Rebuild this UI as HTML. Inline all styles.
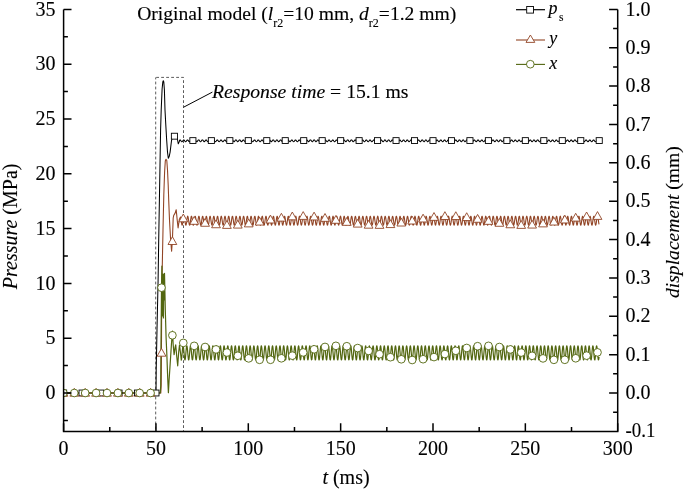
<!DOCTYPE html>
<html><head><meta charset="utf-8"><style>
html,body{margin:0;padding:0;background:#fff;}
svg{display:block;font-family:"Liberation Serif",serif;will-change:transform;}
text{stroke:#000;stroke-width:0.12px;}
</style></head><body>
<svg width="685" height="490" viewBox="0 0 685 490">
<g fill="none" stroke="#4a4a4a" stroke-width="0.9" stroke-dasharray="2.8,2.2"><path d="M155.7,77.4 V431.4" stroke-dashoffset="0.8"/><path d="M155.3,77.4 H183.5" stroke-dashoffset="-0.9"/><path d="M183.5,77.4 V431.4" stroke-dashoffset="2.2"/></g>
<path d="M183.6,107.2 L212.4,92.1" stroke="#000" stroke-width="1" fill="none"/>
<defs><clipPath id="pc"><rect x="63.6" y="0" width="554.1" height="431.4"/></clipPath></defs><g clip-path="url(#pc)">
<path d="M63.60,393.00 L156.00,393.00 L156.20,370.00 L157.00,330.00 L158.10,280.00 L158.70,240.00 L159.40,200.00 L160.00,165.00 L160.60,130.00 L161.20,110.00 L162.10,89.00 L162.80,82.00 L163.30,80.70 L163.80,82.00 L164.40,90.00 L165.00,110.00 L165.80,125.00 L166.60,139.00 L167.50,152.00 L168.30,158.20 L169.20,156.50 L170.10,152.10 L171.50,140.70 L172.50,137.00 L174.00,135.80 L176.00,136.00 L177.30,138.50 L178.30,143.80 L179.40,141.40 L179.65,140.08 L179.90,139.92 L180.15,139.92 L180.40,140.07 L180.65,140.35 L180.90,140.71 L181.15,141.08 L181.40,141.41 L181.65,141.63 L181.90,141.70 L182.15,141.62 L182.40,141.39 L182.65,141.06 L182.90,140.68 L183.15,140.33 L183.40,140.06 L183.65,139.91 L183.90,139.93 L184.15,140.09 L184.40,140.38 L184.65,140.75 L184.90,141.12 L185.15,141.43 L185.40,141.64 L185.65,141.70 L185.90,141.60 L186.15,141.36 L186.40,141.02 L186.65,140.65 L186.90,140.30 L187.15,140.04 L187.40,139.91 L187.65,139.94 L187.90,140.12 L188.15,140.42 L188.40,140.78 L188.65,141.15 L188.90,141.46 L189.15,141.65 L189.40,141.70 L189.65,141.58 L189.90,141.33 L190.15,140.99 L190.40,140.61 L190.65,140.27 L190.90,140.02 L191.15,139.90 L191.40,139.95 L191.65,140.14 L191.90,140.45 L192.15,140.82 L192.40,141.19 L192.65,141.49 L192.90,141.66 L193.15,141.69 L193.40,141.56 L193.65,141.30 L193.90,140.95 L194.15,140.57 L194.40,140.24 L194.65,140.00 L194.90,139.90 L195.15,139.96 L195.40,140.17 L195.65,140.49 L195.90,140.86 L196.15,141.22 L196.40,141.51 L196.65,141.67 L196.90,141.69 L197.15,141.54 L197.40,141.27 L197.65,140.91 L197.90,140.54 L198.15,140.21 L198.40,139.98 L198.65,139.90 L198.90,139.98 L199.15,140.19 L199.40,140.52 L199.65,140.90 L199.90,141.25 L200.15,141.53 L200.40,141.68 L200.65,141.68 L200.90,141.52 L201.15,141.24 L201.40,140.88 L201.65,140.50 L201.90,140.18 L202.15,139.97 L202.40,139.90 L202.65,139.99 L202.90,140.22 L203.15,140.56 L203.40,140.93 L203.65,141.28 L203.90,141.55 L204.15,141.69 L204.40,141.67 L204.65,141.50 L204.90,141.20 L205.15,140.84 L205.40,140.47 L205.65,140.15 L205.90,139.95 L206.15,139.90 L206.40,140.01 L206.65,140.25 L206.90,140.59 L207.15,140.97 L207.40,141.32 L207.65,141.57 L207.90,141.69 L208.15,141.66 L208.40,141.47 L208.65,141.17 L208.90,140.80 L209.15,140.43 L209.40,140.13 L209.65,139.94 L209.90,139.91 L210.15,140.03 L210.40,140.28 L210.65,140.63 L210.90,141.01 L211.15,141.35 L211.40,141.59 L211.65,141.70 L211.90,141.65 L212.15,141.45 L212.40,141.13 L212.65,140.76 L212.90,140.40 L213.15,140.10 L213.40,139.93 L213.65,139.91 L213.90,140.05 L214.15,140.31 L214.40,140.67 L214.65,141.04 L214.90,141.38 L215.15,141.61 L215.40,141.70 L215.65,141.63 L215.90,141.42 L216.15,141.10 L216.40,140.73 L216.65,140.37 L216.90,140.08 L217.15,139.92 L217.40,139.92 L217.65,140.07 L217.90,140.35 L218.15,140.70 L218.40,141.08 L218.65,141.40 L218.90,141.62 L219.15,141.70 L219.40,141.62 L219.65,141.39 L219.90,141.06 L220.15,140.69 L220.40,140.33 L220.65,140.06 L220.90,139.91 L221.15,139.93 L221.40,140.09 L221.65,140.38 L221.90,140.74 L222.15,141.11 L222.40,141.43 L222.65,141.64 L222.90,141.70 L223.15,141.60 L223.40,141.36 L223.65,141.03 L223.90,140.65 L224.15,140.30 L224.40,140.04 L224.65,139.91 L224.90,139.94 L225.15,140.11 L225.40,140.41 L225.65,140.78 L225.90,141.15 L226.15,141.46 L226.40,141.65 L226.65,141.70 L226.90,141.58 L227.15,141.33 L227.40,140.99 L227.65,140.62 L227.90,140.27 L228.15,140.02 L228.40,139.90 L228.65,139.95 L228.90,140.14 L229.15,140.45 L229.40,140.82 L229.65,141.18 L229.90,141.48 L230.15,141.66 L230.40,141.69 L230.65,141.57 L230.90,141.30 L231.15,140.96 L231.40,140.58 L231.65,140.24 L231.90,140.00 L232.15,139.90 L232.40,139.96 L232.65,140.16 L232.90,140.48 L233.15,140.85 L233.40,141.22 L233.65,141.51 L233.90,141.67 L234.15,141.69 L234.40,141.54 L234.65,141.27 L234.90,140.92 L235.15,140.54 L235.40,140.21 L235.65,139.98 L235.90,139.90 L236.15,139.97 L236.40,140.19 L236.65,140.52 L236.90,140.89 L237.15,141.25 L237.40,141.53 L237.65,141.68 L237.90,141.68 L238.15,141.52 L238.40,141.24 L238.65,140.88 L238.90,140.51 L239.15,140.18 L239.40,139.97 L239.65,139.90 L239.90,139.99 L240.15,140.22 L240.40,140.55 L240.65,140.93 L240.90,141.28 L241.15,141.55 L241.40,141.69 L241.65,141.67 L241.90,141.50 L242.15,141.21 L242.40,140.84 L242.65,140.47 L242.90,140.16 L243.15,139.96 L243.40,139.90 L243.65,140.01 L243.90,140.25 L244.15,140.59 L244.40,140.96 L244.65,141.31 L244.90,141.57 L245.15,141.69 L245.40,141.66 L245.65,141.48 L245.90,141.17 L246.15,140.81 L246.40,140.44 L246.65,140.13 L246.90,139.94 L247.15,139.91 L247.40,140.02 L247.65,140.28 L247.90,140.62 L248.15,141.00 L248.40,141.34 L248.65,141.59 L248.90,141.70 L249.15,141.65 L249.40,141.45 L249.65,141.14 L249.90,140.77 L250.15,140.40 L250.40,140.11 L250.65,139.93 L250.90,139.91 L251.15,140.04 L251.40,140.31 L251.65,140.66 L251.90,141.04 L252.15,141.37 L252.40,141.61 L252.65,141.70 L252.90,141.64 L253.15,141.42 L253.40,141.10 L253.65,140.73 L253.90,140.37 L254.15,140.08 L254.40,139.92 L254.65,139.92 L254.90,140.06 L255.15,140.34 L255.40,140.70 L255.65,141.07 L255.90,141.40 L256.15,141.62 L256.40,141.70 L256.65,141.62 L256.90,141.40 L257.15,141.07 L257.40,140.69 L257.65,140.34 L257.90,140.06 L258.15,139.92 L258.40,139.92 L258.65,140.09 L258.90,140.37 L259.15,140.73 L259.40,141.11 L259.65,141.43 L259.90,141.64 L260.15,141.70 L260.40,141.60 L260.65,141.37 L260.90,141.03 L261.15,140.66 L261.40,140.31 L261.65,140.04 L261.90,139.91 L262.15,139.93 L262.40,140.11 L262.65,140.41 L262.90,140.77 L263.15,141.14 L263.40,141.45 L263.65,141.65 L263.90,141.70 L264.15,141.59 L264.40,141.34 L264.65,141.00 L264.90,140.62 L265.15,140.28 L265.40,140.02 L265.65,139.90 L265.90,139.94 L266.15,140.13 L266.40,140.44 L266.65,140.81 L266.90,141.18 L267.15,141.48 L267.40,141.66 L267.65,141.69 L267.90,141.57 L268.15,141.31 L268.40,140.96 L268.65,140.58 L268.90,140.25 L269.15,140.00 L269.40,139.90 L269.65,139.96 L269.90,140.16 L270.15,140.48 L270.40,140.85 L270.65,141.21 L270.90,141.50 L271.15,141.67 L271.40,141.69 L271.65,141.55 L271.90,141.28 L272.15,140.92 L272.40,140.55 L272.65,140.22 L272.90,139.99 L273.15,139.90 L273.40,139.97 L273.65,140.19 L273.90,140.51 L274.15,140.88 L274.40,141.24 L274.65,141.53 L274.90,141.68 L275.15,141.68 L275.40,141.53 L275.65,141.25 L275.90,140.89 L276.15,140.51 L276.40,140.19 L276.65,139.97 L276.90,139.90 L277.15,139.99 L277.40,140.21 L277.65,140.55 L277.90,140.92 L278.15,141.28 L278.40,141.55 L278.65,141.69 L278.90,141.67 L279.15,141.50 L279.40,141.21 L279.65,140.85 L279.90,140.48 L280.15,140.16 L280.40,139.96 L280.65,139.90 L280.90,140.00 L281.15,140.24 L281.40,140.58 L281.65,140.96 L281.90,141.31 L282.15,141.57 L282.40,141.69 L282.65,141.66 L282.90,141.48 L283.15,141.18 L283.40,140.81 L283.65,140.44 L283.90,140.14 L284.15,139.95 L284.40,139.90 L284.65,140.02 L284.90,140.27 L285.15,140.62 L285.40,141.00 L285.65,141.34 L285.90,141.59 L286.15,141.70 L286.40,141.65 L286.65,141.45 L286.90,141.14 L287.15,140.77 L287.40,140.41 L287.65,140.11 L287.90,139.93 L288.15,139.91 L288.40,140.04 L288.65,140.30 L288.90,140.66 L289.15,141.03 L289.40,141.37 L289.65,141.60 L289.90,141.70 L290.15,141.64 L290.40,141.43 L290.65,141.11 L290.90,140.74 L291.15,140.37 L291.40,140.09 L291.65,139.92 L291.90,139.92 L292.15,140.06 L292.40,140.34 L292.65,140.69 L292.90,141.07 L293.15,141.40 L293.40,141.62 L293.65,141.70 L293.90,141.62 L294.15,141.40 L294.40,141.07 L294.65,140.70 L294.90,140.34 L295.15,140.07 L295.40,139.92 L295.65,139.92 L295.90,140.08 L296.15,140.37 L296.40,140.73 L296.65,141.10 L296.90,141.42 L297.15,141.63 L297.40,141.70 L297.65,141.61 L297.90,141.37 L298.15,141.04 L298.40,140.66 L298.65,140.31 L298.90,140.04 L299.15,139.91 L299.40,139.93 L299.65,140.11 L299.90,140.40 L300.15,140.77 L300.40,141.14 L300.65,141.45 L300.90,141.65 L301.15,141.70 L301.40,141.59 L301.65,141.34 L301.90,141.00 L302.15,140.63 L302.40,140.28 L302.65,140.02 L302.90,139.91 L303.15,139.94 L303.40,140.13 L303.65,140.44 L303.90,140.80 L304.15,141.17 L304.40,141.48 L304.65,141.66 L304.90,141.69 L305.15,141.57 L305.40,141.31 L305.65,140.97 L305.90,140.59 L306.15,140.25 L306.40,140.01 L306.65,139.90 L306.90,139.96 L307.15,140.16 L307.40,140.47 L307.65,140.84 L307.90,141.21 L308.15,141.50 L308.40,141.67 L308.65,141.69 L308.90,141.55 L309.15,141.28 L309.40,140.93 L309.65,140.55 L309.90,140.22 L310.15,139.99 L310.40,139.90 L310.65,139.97 L310.90,140.18 L311.15,140.51 L311.40,140.88 L311.65,141.24 L311.90,141.52 L312.15,141.68 L312.40,141.68 L312.65,141.53 L312.90,141.25 L313.15,140.89 L313.40,140.52 L313.65,140.19 L313.90,139.97 L314.15,139.90 L314.40,139.98 L314.65,140.21 L314.90,140.54 L315.15,140.92 L315.40,141.27 L315.65,141.54 L315.90,141.69 L316.15,141.67 L316.40,141.51 L316.65,141.22 L316.90,140.85 L317.15,140.48 L317.40,140.17 L317.65,139.96 L317.90,139.90 L318.15,140.00 L318.40,140.24 L318.65,140.58 L318.90,140.95 L319.15,141.30 L319.40,141.56 L319.65,141.69 L319.90,141.66 L320.15,141.48 L320.40,141.18 L320.65,140.82 L320.90,140.45 L321.15,140.14 L321.40,139.95 L321.65,139.90 L321.90,140.02 L322.15,140.27 L322.40,140.61 L322.65,140.99 L322.90,141.33 L323.15,141.58 L323.40,141.70 L323.65,141.65 L323.90,141.46 L324.15,141.15 L324.40,140.78 L324.65,140.41 L324.90,140.11 L325.15,139.94 L325.40,139.91 L325.65,140.04 L325.90,140.30 L326.15,140.65 L326.40,141.03 L326.65,141.36 L326.90,141.60 L327.15,141.70 L327.40,141.64 L327.65,141.43 L327.90,141.11 L328.15,140.74 L328.40,140.38 L328.65,140.09 L328.90,139.93 L329.15,139.91 L329.40,140.06 L329.65,140.33 L329.90,140.69 L330.15,141.06 L330.40,141.39 L330.65,141.62 L330.90,141.70 L331.15,141.62 L331.40,141.41 L331.65,141.08 L331.90,140.70 L332.15,140.35 L332.40,140.07 L332.65,139.92 L332.90,139.92 L333.15,140.08 L333.40,140.36 L333.65,140.72 L333.90,141.10 L334.15,141.42 L334.40,141.63 L334.65,141.70 L334.90,141.61 L335.15,141.38 L335.40,141.04 L335.65,140.67 L335.90,140.31 L336.15,140.05 L336.40,139.91 L336.65,139.93 L336.90,140.10 L337.15,140.40 L337.40,140.76 L337.65,141.13 L337.90,141.45 L338.15,141.65 L338.40,141.70 L338.65,141.59 L338.90,141.35 L339.15,141.01 L339.40,140.63 L339.65,140.28 L339.90,140.03 L340.15,139.91 L340.40,139.94 L340.65,140.13 L340.90,140.43 L341.15,140.80 L341.40,141.17 L341.65,141.47 L341.90,141.66 L342.15,141.69 L342.40,141.57 L342.65,141.32 L342.90,140.97 L343.15,140.59 L343.40,140.25 L343.65,140.01 L343.90,139.90 L344.15,139.95 L344.40,140.15 L344.65,140.47 L344.90,140.84 L345.15,141.20 L345.40,141.50 L345.65,141.67 L345.90,141.69 L346.15,141.55 L346.40,141.29 L346.65,140.93 L346.90,140.56 L347.15,140.22 L347.40,139.99 L347.65,139.90 L347.90,139.97 L348.15,140.18 L348.40,140.50 L348.65,140.87 L348.90,141.23 L349.15,141.52 L349.40,141.68 L349.65,141.68 L349.90,141.53 L350.15,141.25 L350.40,140.90 L350.65,140.52 L350.90,140.20 L351.15,139.98 L351.40,139.90 L351.65,139.98 L351.90,140.21 L352.15,140.54 L352.40,140.91 L352.65,141.27 L352.90,141.54 L353.15,141.69 L353.40,141.67 L353.65,141.51 L353.90,141.22 L354.15,140.86 L354.40,140.49 L354.65,140.17 L354.90,139.96 L355.15,139.90 L355.40,140.00 L355.65,140.24 L355.90,140.57 L356.15,140.95 L356.40,141.30 L356.65,141.56 L356.90,141.69 L357.15,141.66 L357.40,141.49 L357.65,141.19 L357.90,140.82 L358.15,140.45 L358.40,140.14 L358.65,139.95 L358.90,139.90 L359.15,140.02 L359.40,140.27 L359.65,140.61 L359.90,140.98 L360.15,141.33 L360.40,141.58 L360.65,141.70 L360.90,141.65 L361.15,141.46 L361.40,141.15 L361.65,140.78 L361.90,140.42 L362.15,140.12 L362.40,139.94 L362.65,139.91 L362.90,140.03 L363.15,140.30 L363.40,140.64 L363.65,141.02 L363.90,141.36 L364.15,141.60 L364.40,141.70 L364.65,141.64 L364.90,141.44 L365.15,141.12 L365.40,140.75 L365.65,140.38 L365.90,140.09 L366.15,139.93 L366.40,139.91 L366.65,140.06 L366.90,140.33 L367.15,140.68 L367.40,141.06 L367.65,141.39 L367.90,141.62 L368.15,141.70 L368.40,141.63 L368.65,141.41 L368.90,141.08 L369.15,140.71 L369.40,140.35 L369.65,140.07 L369.90,139.92 L370.15,139.92 L370.40,140.08 L370.65,140.36 L370.90,140.72 L371.15,141.09 L371.40,141.42 L371.65,141.63 L371.90,141.70 L372.15,141.61 L372.40,141.38 L372.65,141.05 L372.90,140.67 L373.15,140.32 L373.40,140.05 L373.65,139.91 L373.90,139.93 L374.15,140.10 L374.40,140.39 L374.65,140.76 L374.90,141.13 L375.15,141.44 L375.40,141.64 L375.65,141.70 L375.90,141.59 L376.15,141.35 L376.40,141.01 L376.65,140.64 L376.90,140.29 L377.15,140.03 L377.40,139.91 L377.65,139.94 L377.90,140.12 L378.15,140.43 L378.40,140.79 L378.65,141.16 L378.90,141.47 L379.15,141.66 L379.40,141.69 L379.65,141.58 L379.90,141.32 L380.15,140.98 L380.40,140.60 L380.65,140.26 L380.90,140.01 L381.15,139.90 L381.40,139.95 L381.65,140.15 L381.90,140.46 L382.15,140.83 L382.40,141.20 L382.65,141.49 L382.90,141.67 L383.15,141.69 L383.40,141.56 L383.65,141.29 L383.90,140.94 L384.15,140.56 L384.40,140.23 L384.65,139.99 L384.90,139.90 L385.15,139.96 L385.40,140.18 L385.65,140.50 L385.90,140.87 L386.15,141.23 L386.40,141.52 L386.65,141.68 L386.90,141.68 L387.15,141.54 L387.40,141.26 L387.65,140.90 L387.90,140.53 L388.15,140.20 L388.40,139.98 L388.65,139.90 L388.90,139.98 L389.15,140.20 L389.40,140.53 L389.65,140.91 L389.90,141.26 L390.15,141.54 L390.40,141.68 L390.65,141.68 L390.90,141.51 L391.15,141.23 L391.40,140.86 L391.65,140.49 L391.90,140.17 L392.15,139.96 L392.40,139.90 L392.65,140.00 L392.90,140.23 L393.15,140.57 L393.40,140.94 L393.65,141.29 L393.90,141.56 L394.15,141.69 L394.40,141.67 L394.65,141.49 L394.90,141.19 L395.15,140.83 L395.40,140.46 L395.65,140.15 L395.90,139.95 L396.15,139.90 L396.40,140.01 L396.65,140.26 L396.90,140.60 L397.15,140.98 L397.40,141.32 L397.65,141.58 L397.90,141.70 L398.15,141.66 L398.40,141.47 L398.65,141.16 L398.90,140.79 L399.15,140.42 L399.40,140.12 L399.65,139.94 L399.90,139.91 L400.15,140.03 L400.40,140.29 L400.65,140.64 L400.90,141.02 L401.15,141.35 L401.40,141.60 L401.65,141.70 L401.90,141.64 L402.15,141.44 L402.40,141.12 L402.65,140.75 L402.90,140.39 L403.15,140.10 L403.40,139.93 L403.65,139.91 L403.90,140.05 L404.15,140.32 L404.40,140.68 L404.65,141.05 L404.90,141.38 L405.15,141.61 L405.40,141.70 L405.65,141.63 L405.90,141.41 L406.15,141.09 L406.40,140.72 L406.65,140.36 L406.90,140.07 L407.15,139.92 L407.40,139.92 L407.65,140.07 L407.90,140.35 L408.15,140.71 L408.40,141.09 L408.65,141.41 L408.90,141.63 L409.15,141.70 L409.40,141.61 L409.65,141.38 L409.90,141.05 L410.15,140.68 L410.40,140.32 L410.65,140.05 L410.90,139.91 L411.15,139.93 L411.40,140.10 L411.65,140.39 L411.90,140.75 L412.15,141.12 L412.40,141.44 L412.65,141.64 L412.90,141.70 L413.15,141.60 L413.40,141.36 L413.65,141.02 L413.90,140.64 L414.15,140.29 L414.40,140.03 L414.65,139.91 L414.90,139.94 L415.15,140.12 L415.40,140.42 L415.65,140.79 L415.90,141.16 L416.15,141.46 L416.40,141.65 L416.65,141.70 L416.90,141.58 L417.15,141.33 L417.40,140.98 L417.65,140.60 L417.90,140.26 L418.15,140.01 L418.40,139.90 L418.65,139.95 L418.90,140.15 L419.15,140.46 L419.40,140.83 L419.65,141.19 L419.90,141.49 L420.15,141.67 L420.40,141.69 L420.65,141.56 L420.90,141.30 L421.15,140.94 L421.40,140.57 L421.65,140.23 L421.90,140.00 L422.15,139.90 L422.40,139.96 L422.65,140.17 L422.90,140.49 L423.15,140.86 L423.40,141.23 L423.65,141.51 L423.90,141.68 L424.15,141.68 L424.40,141.54 L424.65,141.26 L424.90,140.91 L425.15,140.53 L425.40,140.20 L425.65,139.98 L425.90,139.90 L426.15,139.98 L426.40,140.20 L426.65,140.53 L426.90,140.90 L427.15,141.26 L427.40,141.53 L427.65,141.68 L427.90,141.68 L428.15,141.52 L428.40,141.23 L428.65,140.87 L428.90,140.50 L429.15,140.18 L429.40,139.97 L429.65,139.90 L429.90,139.99 L430.15,140.23 L430.40,140.56 L430.65,140.94 L430.90,141.29 L431.15,141.56 L431.40,141.69 L431.65,141.67 L431.90,141.49 L432.15,141.20 L432.40,140.83 L432.65,140.46 L432.90,140.15 L433.15,139.95 L433.40,139.90 L433.65,140.01 L433.90,140.26 L434.15,140.60 L434.40,140.97 L434.65,141.32 L434.90,141.58 L435.15,141.69 L435.40,141.66 L435.65,141.47 L435.90,141.16 L436.15,140.80 L436.40,140.43 L436.65,140.12 L436.90,139.94 L437.15,139.91 L437.40,140.03 L437.65,140.29 L437.90,140.63 L438.15,141.01 L438.40,141.35 L438.65,141.59 L438.90,141.70 L439.15,141.64 L439.40,141.44 L439.65,141.13 L439.90,140.76 L440.15,140.39 L440.40,140.10 L440.65,139.93 L440.90,139.91 L441.15,140.05 L441.40,140.32 L441.65,140.67 L441.90,141.05 L442.15,141.38 L442.40,141.61 L442.65,141.70 L442.90,141.63 L443.15,141.42 L443.40,141.09 L443.65,140.72 L443.90,140.36 L444.15,140.08 L444.40,139.92 L444.65,139.92 L444.90,140.07 L445.15,140.35 L445.40,140.71 L445.65,141.08 L445.90,141.41 L446.15,141.63 L446.40,141.70 L446.65,141.62 L446.90,141.39 L447.15,141.06 L447.40,140.68 L447.65,140.33 L447.90,140.06 L448.15,139.91 L448.40,139.93 L448.65,140.09 L448.90,140.38 L449.15,140.75 L449.40,141.12 L449.65,141.43 L449.90,141.64 L450.15,141.70 L450.40,141.60 L450.65,141.36 L450.90,141.02 L451.15,140.65 L451.40,140.30 L451.65,140.04 L451.90,139.91 L452.15,139.94 L452.40,140.12 L452.65,140.42 L452.90,140.78 L453.15,141.15 L453.40,141.46 L453.65,141.65 L453.90,141.70 L454.15,141.58 L454.40,141.33 L454.65,140.99 L454.90,140.61 L455.15,140.27 L455.40,140.02 L455.65,139.90 L455.90,139.95 L456.15,140.14 L456.40,140.45 L456.65,140.82 L456.90,141.19 L457.15,141.49 L457.40,141.66 L457.65,141.69 L457.90,141.56 L458.15,141.30 L458.40,140.95 L458.65,140.57 L458.90,140.24 L459.15,140.00 L459.40,139.90 L459.65,139.96 L459.90,140.17 L460.15,140.49 L460.40,140.86 L460.65,141.22 L460.90,141.51 L461.15,141.67 L461.40,141.69 L461.65,141.54 L461.90,141.27 L462.15,140.91 L462.40,140.54 L462.65,140.21 L462.90,139.98 L463.15,139.90 L463.40,139.98 L463.65,140.20 L463.90,140.52 L464.15,140.90 L464.40,141.25 L464.65,141.53 L464.90,141.68 L465.15,141.68 L465.40,141.52 L465.65,141.24 L465.90,140.88 L466.15,140.50 L466.40,140.18 L466.65,139.97 L466.90,139.90 L467.15,139.99 L467.40,140.22 L467.65,140.56 L467.90,140.93 L468.15,141.29 L468.40,141.55 L468.65,141.69 L468.90,141.67 L469.15,141.50 L469.40,141.20 L469.65,140.84 L469.90,140.47 L470.15,140.15 L470.40,139.95 L470.65,139.90 L470.90,140.01 L471.15,140.25 L471.40,140.59 L471.65,140.97 L471.90,141.32 L472.15,141.57 L472.40,141.69 L472.65,141.66 L472.90,141.47 L473.15,141.17 L473.40,140.80 L473.65,140.43 L473.90,140.13 L474.15,139.94 L474.40,139.91 L474.65,140.03 L474.90,140.28 L475.15,140.63 L475.40,141.01 L475.65,141.35 L475.90,141.59 L476.15,141.70 L476.40,141.65 L476.65,141.45 L476.90,141.13 L477.15,140.76 L477.40,140.40 L477.65,140.10 L477.90,139.93 L478.15,139.91 L478.40,140.05 L478.65,140.31 L478.90,140.67 L479.15,141.04 L479.40,141.38 L479.65,141.61 L479.90,141.70 L480.15,141.63 L480.40,141.42 L480.65,141.10 L480.90,140.73 L481.15,140.37 L481.40,140.08 L481.65,139.92 L481.90,139.92 L482.15,140.07 L482.40,140.35 L482.65,140.70 L482.90,141.08 L483.15,141.40 L483.40,141.62 L483.65,141.70 L483.90,141.62 L484.15,141.39 L484.40,141.06 L484.65,140.69 L484.90,140.33 L485.15,140.06 L485.40,139.91 L485.65,139.93 L485.90,140.09 L486.15,140.38 L486.40,140.74 L486.65,141.11 L486.90,141.43 L487.15,141.64 L487.40,141.70 L487.65,141.60 L487.90,141.36 L488.15,141.03 L488.40,140.65 L488.65,140.30 L488.90,140.04 L489.15,139.91 L489.40,139.94 L489.65,140.11 L489.90,140.41 L490.15,140.78 L490.40,141.15 L490.65,141.46 L490.90,141.65 L491.15,141.70 L491.40,141.58 L491.65,141.33 L491.90,140.99 L492.15,140.61 L492.40,140.27 L492.65,140.02 L492.90,139.90 L493.15,139.95 L493.40,140.14 L493.65,140.45 L493.90,140.82 L494.15,141.18 L494.40,141.48 L494.65,141.66 L494.90,141.69 L495.15,141.57 L495.40,141.30 L495.65,140.95 L495.90,140.58 L496.15,140.24 L496.40,140.00 L496.65,139.90 L496.90,139.96 L497.15,140.16 L497.40,140.48 L497.65,140.85 L497.90,141.22 L498.15,141.51 L498.40,141.67 L498.65,141.69 L498.90,141.54 L499.15,141.27 L499.40,140.92 L499.65,140.54 L499.90,140.21 L500.15,139.98 L500.40,139.90 L500.65,139.97 L500.90,140.19 L501.15,140.52 L501.40,140.89 L501.65,141.25 L501.90,141.53 L502.15,141.68 L502.40,141.68 L502.65,141.52 L502.90,141.24 L503.15,140.88 L503.40,140.51 L503.65,140.18 L503.90,139.97 L504.15,139.90 L504.40,139.99 L504.65,140.22 L504.90,140.55 L505.15,140.93 L505.40,141.28 L505.65,141.55 L505.90,141.69 L506.15,141.67 L506.40,141.50 L506.65,141.21 L506.90,140.84 L507.15,140.47 L507.40,140.16 L507.65,139.96 L507.90,139.90 L508.15,140.01 L508.40,140.25 L508.65,140.59 L508.90,140.96 L509.15,141.31 L509.40,141.57 L509.65,141.69 L509.90,141.66 L510.15,141.48 L510.40,141.17 L510.65,140.81 L510.90,140.44 L511.15,140.13 L511.40,139.94 L511.65,139.91 L511.90,140.02 L512.15,140.28 L512.40,140.62 L512.65,141.00 L512.90,141.34 L513.15,141.59 L513.40,141.70 L513.65,141.65 L513.90,141.45 L514.15,141.14 L514.40,140.77 L514.65,140.40 L514.90,140.11 L515.15,139.93 L515.40,139.91 L515.65,140.04 L515.90,140.31 L516.15,140.66 L516.40,141.04 L516.65,141.37 L516.90,141.61 L517.15,141.70 L517.40,141.64 L517.65,141.42 L517.90,141.10 L518.15,140.73 L518.40,140.37 L518.65,140.08 L518.90,139.92 L519.15,139.92 L519.40,140.06 L519.65,140.34 L519.90,140.70 L520.15,141.07 L520.40,141.40 L520.65,141.62 L520.90,141.70 L521.15,141.62 L521.40,141.40 L521.65,141.07 L521.90,140.69 L522.15,140.34 L522.40,140.06 L522.65,139.92 L522.90,139.92 L523.15,140.09 L523.40,140.37 L523.65,140.74 L523.90,141.11 L524.15,141.43 L524.40,141.64 L524.65,141.70 L524.90,141.60 L525.15,141.37 L525.40,141.03 L525.65,140.66 L525.90,140.31 L526.15,140.04 L526.40,139.91 L526.65,139.93 L526.90,140.11 L527.15,140.41 L527.40,140.77 L527.65,141.14 L527.90,141.45 L528.15,141.65 L528.40,141.70 L528.65,141.59 L528.90,141.34 L529.15,141.00 L529.40,140.62 L529.65,140.27 L529.90,140.02 L530.15,139.90 L530.40,139.94 L530.65,140.13 L530.90,140.44 L531.15,140.81 L531.40,141.18 L531.65,141.48 L531.90,141.66 L532.15,141.69 L532.40,141.57 L532.65,141.31 L532.90,140.96 L533.15,140.58 L533.40,140.25 L533.65,140.00 L533.90,139.90 L534.15,139.96 L534.40,140.16 L534.65,140.48 L534.90,140.85 L535.15,141.21 L535.40,141.50 L535.65,141.67 L535.90,141.69 L536.15,141.55 L536.40,141.28 L536.65,140.92 L536.90,140.55 L537.15,140.22 L537.40,139.99 L537.65,139.90 L537.90,139.97 L538.15,140.19 L538.40,140.51 L538.65,140.88 L538.90,141.24 L539.15,141.53 L539.40,141.68 L539.65,141.68 L539.90,141.53 L540.15,141.25 L540.40,140.89 L540.65,140.51 L540.90,140.19 L541.15,139.97 L541.40,139.90 L541.65,139.99 L541.90,140.22 L542.15,140.55 L542.40,140.92 L542.65,141.28 L542.90,141.55 L543.15,141.69 L543.40,141.67 L543.65,141.50 L543.90,141.21 L544.15,140.85 L544.40,140.48 L544.65,140.16 L544.90,139.96 L545.15,139.90 L545.40,140.00 L545.65,140.24 L545.90,140.58 L546.15,140.96 L546.40,141.31 L546.65,141.57 L546.90,141.69 L547.15,141.66 L547.40,141.48 L547.65,141.18 L547.90,140.81 L548.15,140.44 L548.40,140.14 L548.65,139.95 L548.90,139.90 L549.15,140.02 L549.40,140.27 L549.65,140.62 L549.90,141.00 L550.15,141.34 L550.40,141.59 L550.65,141.70 L550.90,141.65 L551.15,141.45 L551.40,141.14 L551.65,140.77 L551.90,140.41 L552.15,140.11 L552.40,139.93 L552.65,139.91 L552.90,140.04 L553.15,140.30 L553.40,140.66 L553.65,141.03 L553.90,141.37 L554.15,141.60 L554.40,141.70 L554.65,141.64 L554.90,141.43 L555.15,141.11 L555.40,140.74 L555.65,140.37 L555.90,140.09 L556.15,139.92 L556.40,139.92 L556.65,140.06 L556.90,140.34 L557.15,140.69 L557.40,141.07 L557.65,141.40 L557.90,141.62 L558.15,141.70 L558.40,141.62 L558.65,141.40 L558.90,141.07 L559.15,140.70 L559.40,140.34 L559.65,140.07 L559.90,139.92 L560.15,139.92 L560.40,140.08 L560.65,140.37 L560.90,140.73 L561.15,141.10 L561.40,141.42 L561.65,141.63 L561.90,141.70 L562.15,141.61 L562.40,141.37 L562.65,141.04 L562.90,140.66 L563.15,140.31 L563.40,140.04 L563.65,139.91 L563.90,139.93 L564.15,140.11 L564.40,140.40 L564.65,140.77 L564.90,141.14 L565.15,141.45 L565.40,141.65 L565.65,141.70 L565.90,141.59 L566.15,141.34 L566.40,141.00 L566.65,140.63 L566.90,140.28 L567.15,140.02 L567.40,139.91 L567.65,139.94 L567.90,140.13 L568.15,140.44 L568.40,140.80 L568.65,141.17 L568.90,141.48 L569.15,141.66 L569.40,141.69 L569.65,141.57 L569.90,141.31 L570.15,140.97 L570.40,140.59 L570.65,140.25 L570.90,140.01 L571.15,139.90 L571.40,139.96 L571.65,140.16 L571.90,140.47 L572.15,140.84 L572.40,141.21 L572.65,141.50 L572.90,141.67 L573.15,141.69 L573.40,141.55 L573.65,141.28 L573.90,140.93 L574.15,140.55 L574.40,140.22 L574.65,139.99 L574.90,139.90 L575.15,139.97 L575.40,140.18 L575.65,140.51 L575.90,140.88 L576.15,141.24 L576.40,141.52 L576.65,141.68 L576.90,141.68 L577.15,141.53 L577.40,141.25 L577.65,140.89 L577.90,140.52 L578.15,140.19 L578.40,139.97 L578.65,139.90 L578.90,139.98 L579.15,140.21 L579.40,140.54 L579.65,140.92 L579.90,141.27 L580.15,141.54 L580.40,141.69 L580.65,141.67 L580.90,141.51 L581.15,141.22 L581.40,140.85 L581.65,140.48 L581.90,140.16 L582.15,139.96 L582.40,139.90 L582.65,140.00 L582.90,140.24 L583.15,140.58 L583.40,140.95 L583.65,141.30 L583.90,141.56 L584.15,141.69 L584.40,141.66 L584.65,141.48 L584.90,141.18 L585.15,140.82 L585.40,140.45 L585.65,140.14 L585.90,139.95 L586.15,139.90 L586.40,140.02 L586.65,140.27 L586.90,140.61 L587.15,140.99 L587.40,141.33 L587.65,141.58 L587.90,141.70 L588.15,141.65 L588.40,141.46 L588.65,141.15 L588.90,140.78 L589.15,140.41 L589.40,140.11 L589.65,139.94 L589.90,139.91 L590.15,140.04 L590.40,140.30 L590.65,140.65 L590.90,141.03 L591.15,141.36 L591.40,141.60 L591.65,141.70 L591.90,141.64 L592.15,141.43 L592.40,141.11 L592.65,140.74 L592.90,140.38 L593.15,140.09 L593.40,139.93 L593.65,139.91 L593.90,140.06 L594.15,140.33 L594.40,140.69 L594.65,141.06 L594.90,141.39 L595.15,141.62 L595.40,141.70 L595.65,141.62 L595.90,141.40 L596.15,141.08 L596.40,140.70 L596.65,140.35 L596.90,140.07 L597.15,139.92 L597.40,139.92 L597.65,140.08 L597.90,140.36 L598.15,140.72 L598.40,141.10 L598.65,141.42 L598.90,141.63 L599.15,141.70" fill="none" stroke="#000" stroke-width="1.05" stroke-linejoin="round"/>
<path d="M63.60,393.00 L160.80,393.00 L161.20,385.00 L161.40,360.00 L161.60,320.00 L162.00,280.00 L162.40,260.00 L163.00,230.00 L163.80,195.00 L164.60,172.00 L165.30,161.00 L166.00,159.30 L166.80,160.50 L167.50,170.00 L168.20,185.00 L168.70,200.00 L169.50,220.00 L170.50,238.00 L171.60,251.30 L172.40,240.00 L173.20,218.00 L173.80,215.20 L175.00,213.40 L176.20,209.70 L177.20,220.00 L178.10,228.00 L179.30,219.50 L180.50,217.00 L180.75,217.53 L181.00,219.11 L181.25,220.97 L181.50,222.79 L181.75,224.24 L182.00,225.07 L182.25,225.13 L182.50,224.42 L182.75,223.06 L183.00,221.28 L183.25,219.40 L183.50,217.75 L183.75,216.62 L184.00,216.20 L184.25,216.57 L184.50,217.66 L184.75,219.29 L185.00,221.16 L185.25,222.95 L185.50,224.35 L185.75,225.11 L186.00,225.09 L186.25,224.31 L186.50,222.90 L186.75,221.10 L187.00,219.23 L187.25,217.62 L187.50,216.54 L187.75,216.20 L188.00,216.65 L188.25,217.80 L188.50,219.46 L188.75,221.34 L189.00,223.11 L189.25,224.45 L189.50,225.14 L189.75,225.05 L190.00,224.20 L190.25,222.73 L190.50,220.91 L190.75,219.05 L191.00,217.48 L191.25,216.48 L191.50,216.21 L191.75,216.73 L192.00,217.95 L192.25,219.65 L192.50,221.53 L192.75,223.27 L193.00,224.55 L193.25,225.17 L193.50,225.00 L193.75,224.08 L194.00,222.56 L194.25,220.72 L194.50,218.88 L194.75,217.35 L195.00,216.42 L195.25,216.23 L195.50,216.82 L195.75,218.10 L196.00,219.83 L196.25,221.71 L196.50,223.42 L196.75,224.65 L197.00,225.19 L197.25,224.94 L197.50,223.95 L197.75,222.39 L198.00,220.54 L198.25,218.71 L198.50,217.23 L198.75,216.36 L199.00,216.25 L199.25,216.92 L199.50,218.25 L199.75,220.01 L200.00,221.89 L200.25,223.56 L200.50,224.73 L200.75,225.20 L201.00,224.87 L201.25,223.82 L201.50,222.22 L201.75,220.35 L202.00,218.54 L202.25,217.12 L202.50,216.32 L202.75,216.28 L203.00,217.03 L203.25,218.41 L203.50,220.20 L203.75,222.07 L204.00,223.71 L204.25,224.81 L204.50,225.20 L204.75,224.80 L205.00,223.68 L205.25,222.04 L205.50,220.16 L205.75,218.38 L206.00,217.01 L206.25,216.28 L206.50,216.32 L206.75,217.14 L207.00,218.57 L207.25,220.38 L207.50,222.25 L207.75,223.84 L208.00,224.89 L208.25,225.20 L208.50,224.72 L208.75,223.54 L209.00,221.86 L209.25,219.98 L209.50,218.22 L209.75,216.90 L210.00,216.25 L210.25,216.37 L210.50,217.25 L210.75,218.74 L211.00,220.57 L211.25,222.42 L211.50,223.97 L211.75,224.95 L212.00,225.18 L212.25,224.63 L212.50,223.39 L212.75,221.68 L213.00,219.79 L213.25,218.07 L213.50,216.80 L213.75,216.22 L214.00,216.43 L214.25,217.38 L214.50,218.91 L214.75,220.76 L215.00,222.59 L215.25,224.10 L215.50,225.01 L215.75,225.16 L216.00,224.54 L216.25,223.24 L216.50,221.49 L216.75,219.61 L217.00,217.92 L217.25,216.71 L217.50,216.21 L217.75,216.49 L218.00,217.51 L218.25,219.08 L218.50,220.95 L218.75,222.76 L219.00,224.22 L219.25,225.06 L219.50,225.13 L219.75,224.43 L220.00,223.08 L220.25,221.31 L220.50,219.43 L220.75,217.77 L221.00,216.63 L221.25,216.20 L221.50,216.56 L221.75,217.64 L222.00,219.26 L222.25,221.13 L222.50,222.93 L222.75,224.33 L223.00,225.10 L223.25,225.10 L223.50,224.33 L223.75,222.92 L224.00,221.12 L224.25,219.25 L224.50,217.63 L224.75,216.55 L225.00,216.20 L225.25,216.64 L225.50,217.78 L225.75,219.44 L226.00,221.32 L226.25,223.09 L226.50,224.44 L226.75,225.14 L227.00,225.06 L227.25,224.21 L227.50,222.75 L227.75,220.94 L228.00,219.08 L228.25,217.50 L228.50,216.49 L228.75,216.21 L229.00,216.72 L229.25,217.93 L229.50,219.62 L229.75,221.50 L230.00,223.24 L230.25,224.54 L230.50,225.16 L230.75,225.01 L231.00,224.09 L231.25,222.59 L231.50,220.75 L231.75,218.90 L232.00,217.37 L232.25,216.42 L232.50,216.22 L232.75,216.81 L233.00,218.08 L233.25,219.80 L233.50,221.69 L233.75,223.40 L234.00,224.63 L234.25,225.18 L234.50,224.95 L234.75,223.97 L235.00,222.41 L235.25,220.56 L235.50,218.73 L235.75,217.25 L236.00,216.37 L236.25,216.25 L236.50,216.91 L236.75,218.23 L237.00,219.99 L237.25,221.87 L237.50,223.54 L237.75,224.72 L238.00,225.20 L238.25,224.88 L238.50,223.84 L238.75,222.24 L239.00,220.37 L239.25,218.57 L239.50,217.13 L239.75,216.32 L240.00,216.28 L240.25,217.01 L240.50,218.39 L240.75,220.17 L241.00,222.05 L241.25,223.69 L241.50,224.80 L241.75,225.20 L242.00,224.81 L242.25,223.70 L242.50,222.06 L242.75,220.19 L243.00,218.40 L243.25,217.02 L243.50,216.28 L243.75,216.32 L244.00,217.12 L244.25,218.55 L244.50,220.36 L244.75,222.22 L245.00,223.82 L245.25,224.88 L245.50,225.20 L245.75,224.73 L246.00,223.56 L246.25,221.88 L246.50,220.00 L246.75,218.24 L247.00,216.92 L247.25,216.25 L247.50,216.36 L247.75,217.24 L248.00,218.72 L248.25,220.54 L248.50,222.40 L248.75,223.96 L249.00,224.94 L249.25,225.19 L249.50,224.64 L249.75,223.41 L250.00,221.70 L250.25,219.82 L250.50,218.09 L250.75,216.82 L251.00,216.23 L251.25,216.42 L251.50,217.36 L251.75,218.89 L252.00,220.73 L252.25,222.57 L252.50,224.08 L252.75,225.00 L253.00,225.17 L253.25,224.55 L253.50,223.26 L253.75,221.52 L254.00,219.64 L254.25,217.94 L254.50,216.73 L254.75,216.21 L255.00,216.48 L255.25,217.49 L255.50,219.06 L255.75,220.92 L256.00,222.74 L256.25,224.20 L256.50,225.05 L256.75,225.14 L257.00,224.45 L257.25,223.10 L257.50,221.33 L257.75,219.46 L258.00,217.79 L258.25,216.64 L258.50,216.20 L258.75,216.55 L259.00,217.62 L259.25,219.24 L259.50,221.11 L259.75,222.90 L260.00,224.32 L260.25,225.10 L260.50,225.10 L260.75,224.34 L261.00,222.94 L261.25,221.15 L261.50,219.28 L261.75,217.65 L262.00,216.57 L262.25,216.20 L262.50,216.62 L262.75,217.76 L263.00,219.41 L263.25,221.29 L263.50,223.07 L263.75,224.42 L264.00,225.13 L264.25,225.06 L264.50,224.23 L264.75,222.78 L265.00,220.96 L265.25,219.10 L265.50,217.52 L265.75,216.50 L266.00,216.21 L266.25,216.71 L266.50,217.91 L266.75,219.59 L267.00,221.48 L267.25,223.22 L267.50,224.53 L267.75,225.16 L268.00,225.01 L268.25,224.11 L268.50,222.61 L268.75,220.78 L269.00,218.93 L269.25,217.39 L269.50,216.43 L269.75,216.22 L270.00,216.80 L270.25,218.05 L270.50,219.78 L270.75,221.66 L271.00,223.37 L271.25,224.62 L271.50,225.18 L271.75,224.96 L272.00,223.99 L272.25,222.44 L272.50,220.59 L272.75,218.76 L273.00,217.27 L273.25,216.38 L273.50,216.24 L273.75,216.89 L274.00,218.21 L274.25,219.96 L274.50,221.84 L274.75,223.52 L275.00,224.71 L275.25,225.19 L275.50,224.89 L275.75,223.85 L276.00,222.26 L276.25,220.40 L276.50,218.59 L276.75,217.15 L277.00,216.33 L277.25,216.27 L277.50,217.00 L277.75,218.37 L278.00,220.15 L278.25,222.02 L278.50,223.67 L278.75,224.79 L279.00,225.20 L279.25,224.82 L279.50,223.72 L279.75,222.09 L280.00,220.21 L280.25,218.43 L280.50,217.04 L280.75,216.29 L281.00,216.31 L281.25,217.11 L281.50,218.53 L281.75,220.33 L282.00,222.20 L282.25,223.80 L282.50,224.87 L282.75,225.20 L283.00,224.74 L283.25,223.58 L283.50,221.91 L283.75,220.03 L284.00,218.27 L284.25,216.93 L284.50,216.25 L284.75,216.36 L285.00,217.22 L285.25,218.69 L285.50,220.52 L285.75,222.37 L286.00,223.94 L286.25,224.93 L286.50,225.19 L286.75,224.66 L287.00,223.43 L287.25,221.73 L287.50,219.84 L287.75,218.11 L288.00,216.83 L288.25,216.23 L288.50,216.41 L288.75,217.34 L289.00,218.86 L289.25,220.71 L289.50,222.55 L289.75,224.06 L290.00,224.99 L290.25,225.17 L290.50,224.56 L290.75,223.28 L291.00,221.54 L291.25,219.66 L291.50,217.96 L291.75,216.74 L292.00,216.21 L292.25,216.47 L292.50,217.47 L292.75,219.04 L293.00,220.89 L293.25,222.72 L293.50,224.19 L293.75,225.05 L294.00,225.14 L294.25,224.46 L294.50,223.12 L294.75,221.36 L295.00,219.48 L295.25,217.81 L295.50,216.65 L295.75,216.20 L296.00,216.54 L296.25,217.60 L296.50,219.21 L296.75,221.08 L297.00,222.88 L297.25,224.30 L297.50,225.09 L297.75,225.11 L298.00,224.36 L298.25,222.96 L298.50,221.17 L298.75,219.30 L299.00,217.67 L299.25,216.58 L299.50,216.20 L299.75,216.61 L300.00,217.74 L300.25,219.39 L300.50,221.26 L300.75,223.04 L301.00,224.41 L301.25,225.13 L301.50,225.07 L301.75,224.25 L302.00,222.80 L302.25,220.99 L302.50,219.13 L302.75,217.54 L303.00,216.50 L303.25,216.21 L303.50,216.69 L303.75,217.88 L304.00,219.57 L304.25,221.45 L304.50,223.20 L304.75,224.51 L305.00,225.16 L305.25,225.02 L305.50,224.13 L305.75,222.63 L306.00,220.80 L306.25,218.95 L306.50,217.41 L306.75,216.44 L307.00,216.22 L307.25,216.78 L307.50,218.03 L307.75,219.75 L308.00,221.63 L308.25,223.35 L308.50,224.61 L308.75,225.18 L309.00,224.96 L309.25,224.00 L309.50,222.46 L309.75,220.61 L310.00,218.78 L310.25,217.28 L310.50,216.38 L310.75,216.24 L311.00,216.88 L311.25,218.19 L311.50,219.93 L311.75,221.82 L312.00,223.50 L312.25,224.70 L312.50,225.19 L312.75,224.90 L313.00,223.87 L313.25,222.29 L313.50,220.43 L313.75,218.61 L314.00,217.16 L314.25,216.33 L314.50,216.27 L314.75,216.98 L315.00,218.34 L315.25,220.12 L315.50,222.00 L315.75,223.65 L316.00,224.78 L316.25,225.20 L316.50,224.83 L316.75,223.74 L317.00,222.11 L317.25,220.24 L317.50,218.45 L317.75,217.05 L318.00,216.29 L318.25,216.31 L318.50,217.09 L318.75,218.50 L319.00,220.30 L319.25,222.17 L319.50,223.79 L319.75,224.86 L320.00,225.20 L320.25,224.75 L320.50,223.60 L320.75,221.93 L321.00,220.06 L321.25,218.29 L321.50,216.95 L321.75,216.26 L322.00,216.35 L322.25,217.20 L322.50,218.67 L322.75,220.49 L323.00,222.35 L323.25,223.92 L323.50,224.92 L323.75,225.19 L324.00,224.67 L324.25,223.45 L324.50,221.75 L324.75,219.87 L325.00,218.13 L325.25,216.85 L325.50,216.23 L325.75,216.40 L326.00,217.33 L326.25,218.84 L326.50,220.68 L326.75,222.52 L327.00,224.05 L327.25,224.98 L327.50,225.17 L327.75,224.58 L328.00,223.30 L328.25,221.57 L328.50,219.69 L328.75,217.98 L329.00,216.75 L329.25,216.21 L329.50,216.46 L329.75,217.45 L330.00,219.01 L330.25,220.87 L330.50,222.69 L330.75,224.17 L331.00,225.04 L331.25,225.15 L331.50,224.48 L331.75,223.15 L332.00,221.39 L332.25,219.51 L332.50,217.84 L332.75,216.67 L333.00,216.20 L333.25,216.53 L333.50,217.58 L333.75,219.19 L334.00,221.05 L334.25,222.86 L334.50,224.28 L334.75,225.08 L335.00,225.12 L335.25,224.37 L335.50,222.99 L335.75,221.20 L336.00,219.33 L336.25,217.69 L336.50,216.59 L336.75,216.20 L337.00,216.60 L337.25,217.72 L337.50,219.36 L337.75,221.24 L338.00,223.02 L338.25,224.39 L338.50,225.12 L338.75,225.08 L339.00,224.26 L339.25,222.82 L339.50,221.02 L339.75,219.15 L340.00,217.56 L340.25,216.51 L340.50,216.20 L340.75,216.68 L341.00,217.86 L341.25,219.54 L341.50,221.42 L341.75,223.18 L342.00,224.50 L342.25,225.15 L342.50,225.03 L342.75,224.14 L343.00,222.66 L343.25,220.83 L343.50,218.98 L343.75,217.43 L344.00,216.45 L344.25,216.22 L344.50,216.77 L344.75,218.01 L345.00,219.72 L345.25,221.61 L345.50,223.33 L345.75,224.60 L346.00,225.18 L346.25,224.97 L346.50,224.02 L346.75,222.49 L347.00,220.64 L347.25,218.80 L347.50,217.30 L347.75,216.39 L348.00,216.24 L348.25,216.86 L348.50,218.16 L348.75,219.91 L349.00,221.79 L349.25,223.48 L349.50,224.69 L349.75,225.19 L350.00,224.91 L350.25,223.89 L350.50,222.31 L350.75,220.45 L351.00,218.64 L351.25,217.18 L351.50,216.34 L351.75,216.27 L352.00,216.97 L352.25,218.32 L352.50,220.09 L352.75,221.97 L353.00,223.63 L353.25,224.77 L353.50,225.20 L353.75,224.84 L354.00,223.76 L354.25,222.14 L354.50,220.27 L354.75,218.47 L355.00,217.07 L355.25,216.30 L355.50,216.30 L355.75,217.07 L356.00,218.48 L356.25,220.28 L356.50,222.15 L356.75,223.77 L357.00,224.85 L357.25,225.20 L357.50,224.76 L357.75,223.62 L358.00,221.96 L358.25,220.08 L358.50,218.31 L358.75,216.96 L359.00,216.26 L359.25,216.34 L359.50,217.19 L359.75,218.65 L360.00,220.47 L360.25,222.32 L360.50,223.90 L360.75,224.91 L361.00,225.19 L361.25,224.68 L361.50,223.47 L361.75,221.78 L362.00,219.90 L362.25,218.16 L362.50,216.86 L362.75,216.24 L363.00,216.39 L363.25,217.31 L363.50,218.81 L363.75,220.65 L364.00,222.50 L364.25,224.03 L364.50,224.98 L364.75,225.18 L365.00,224.59 L365.25,223.32 L365.50,221.60 L365.75,219.71 L366.00,218.00 L366.25,216.77 L366.50,216.22 L366.75,216.45 L367.00,217.43 L367.25,218.99 L367.50,220.84 L367.75,222.67 L368.00,224.15 L368.25,225.03 L368.50,225.15 L368.75,224.49 L369.00,223.17 L369.25,221.41 L369.50,219.53 L369.75,217.86 L370.00,216.68 L370.25,216.20 L370.50,216.52 L370.75,217.56 L371.00,219.16 L371.25,221.03 L371.50,222.83 L371.75,224.27 L372.00,225.08 L372.25,225.12 L372.50,224.39 L372.75,223.01 L373.00,221.23 L373.25,219.35 L373.50,217.71 L373.75,216.60 L374.00,216.20 L374.25,216.59 L374.50,217.70 L374.75,219.34 L375.00,221.21 L375.25,223.00 L375.50,224.38 L375.75,225.12 L376.00,225.08 L376.25,224.28 L376.50,222.85 L376.75,221.04 L377.00,219.18 L377.25,217.58 L377.50,216.52 L377.75,216.20 L378.00,216.67 L378.25,217.84 L378.50,219.52 L378.75,221.40 L379.00,223.16 L379.25,224.48 L379.50,225.15 L379.75,225.04 L380.00,224.16 L380.25,222.68 L380.50,220.85 L380.75,219.00 L381.00,217.44 L381.25,216.46 L381.50,216.21 L381.75,216.76 L382.00,217.99 L382.25,219.70 L382.50,221.58 L382.75,223.31 L383.00,224.58 L383.25,225.17 L383.50,224.98 L383.75,224.04 L384.00,222.51 L384.25,220.67 L384.50,218.83 L384.75,217.32 L385.00,216.40 L385.25,216.23 L385.50,216.85 L385.75,218.14 L386.00,219.88 L386.25,221.76 L386.50,223.46 L386.75,224.67 L387.00,225.19 L387.25,224.92 L387.50,223.91 L387.75,222.34 L388.00,220.48 L388.25,218.66 L388.50,217.20 L388.75,216.35 L389.00,216.26 L389.25,216.95 L389.50,218.30 L389.75,220.07 L390.00,221.95 L390.25,223.61 L390.50,224.76 L390.75,225.20 L391.00,224.85 L391.25,223.78 L391.50,222.16 L391.75,220.29 L392.00,218.50 L392.25,217.08 L392.50,216.30 L392.75,216.30 L393.00,217.06 L393.25,218.46 L393.50,220.25 L393.75,222.12 L394.00,223.75 L394.25,224.84 L394.50,225.20 L394.75,224.78 L395.00,223.64 L395.25,221.99 L395.50,220.11 L395.75,218.33 L396.00,216.97 L396.25,216.27 L396.50,216.34 L396.75,217.17 L397.00,218.62 L397.25,220.44 L397.50,222.30 L397.75,223.88 L398.00,224.91 L398.25,225.19 L398.50,224.69 L398.75,223.49 L399.00,221.81 L399.25,219.92 L399.50,218.18 L399.75,216.87 L400.00,216.24 L400.25,216.39 L400.50,217.29 L400.75,218.79 L401.00,220.63 L401.25,222.47 L401.50,224.01 L401.75,224.97 L402.00,225.18 L402.25,224.60 L402.50,223.34 L402.75,221.62 L403.00,219.74 L403.25,218.02 L403.50,216.78 L403.75,216.22 L404.00,216.44 L404.25,217.42 L404.50,218.96 L404.75,220.81 L405.00,222.64 L405.25,224.13 L405.50,225.02 L405.75,225.16 L406.00,224.51 L406.25,223.19 L406.50,221.44 L406.75,219.56 L407.00,217.88 L407.25,216.69 L407.50,216.21 L407.75,216.51 L408.00,217.55 L408.25,219.14 L408.50,221.00 L408.75,222.81 L409.00,224.25 L409.25,225.07 L409.50,225.13 L409.75,224.40 L410.00,223.03 L410.25,221.25 L410.50,219.38 L410.75,217.73 L411.00,216.61 L411.25,216.20 L411.50,216.58 L411.75,217.68 L412.00,219.31 L412.25,221.19 L412.50,222.97 L412.75,224.36 L413.00,225.11 L413.25,225.09 L413.50,224.29 L413.75,222.87 L414.00,221.07 L414.25,219.20 L414.50,217.60 L414.75,216.53 L415.00,216.20 L415.25,216.66 L415.50,217.82 L415.75,219.49 L416.00,221.37 L416.25,223.13 L416.50,224.47 L416.75,225.15 L417.00,225.04 L417.25,224.18 L417.50,222.71 L417.75,220.88 L418.00,219.03 L418.25,217.46 L418.50,216.47 L418.75,216.21 L419.00,216.74 L419.25,217.97 L419.50,219.67 L419.75,221.56 L420.00,223.29 L420.25,224.57 L420.50,225.17 L420.75,224.99 L421.00,224.06 L421.25,222.54 L421.50,220.69 L421.75,218.85 L422.00,217.34 L422.25,216.41 L422.50,216.23 L422.75,216.84 L423.00,218.12 L423.25,219.86 L423.50,221.74 L423.75,223.44 L424.00,224.66 L424.25,225.19 L424.50,224.93 L424.75,223.93 L425.00,222.36 L425.25,220.51 L425.50,218.68 L425.75,217.21 L426.00,216.35 L426.25,216.26 L426.50,216.94 L426.75,218.28 L427.00,220.04 L427.25,221.92 L427.50,223.59 L427.75,224.75 L428.00,225.20 L428.25,224.86 L428.50,223.80 L428.75,222.19 L429.00,220.32 L429.25,218.52 L429.50,217.10 L429.75,216.31 L430.00,216.29 L430.25,217.04 L430.50,218.44 L430.75,220.23 L431.00,222.10 L431.25,223.73 L431.50,224.82 L431.75,225.20 L432.00,224.79 L432.25,223.66 L432.50,222.01 L432.75,220.13 L433.00,218.36 L433.25,216.99 L433.50,216.27 L433.75,216.33 L434.00,217.15 L434.25,218.60 L434.50,220.41 L434.75,222.28 L435.00,223.86 L435.25,224.90 L435.50,225.19 L435.75,224.71 L436.00,223.51 L436.25,221.83 L436.50,219.95 L436.75,218.20 L437.00,216.89 L437.25,216.24 L437.50,216.38 L437.75,217.27 L438.00,218.77 L438.25,220.60 L438.50,222.45 L438.75,223.99 L439.00,224.96 L439.25,225.18 L439.50,224.62 L439.75,223.37 L440.00,221.65 L440.25,219.77 L440.50,218.05 L440.75,216.79 L441.00,216.22 L441.25,216.44 L441.50,217.40 L441.75,218.94 L442.00,220.79 L442.25,222.62 L442.50,224.12 L442.75,225.02 L443.00,225.16 L443.25,224.52 L443.50,223.21 L443.75,221.47 L444.00,219.58 L444.25,217.90 L444.50,216.70 L444.75,216.21 L445.00,216.50 L445.25,217.53 L445.50,219.11 L445.75,220.97 L446.00,222.79 L446.25,224.24 L446.50,225.07 L446.75,225.13 L447.00,224.42 L447.25,223.06 L447.50,221.28 L447.75,219.40 L448.00,217.75 L448.25,216.62 L448.50,216.20 L448.75,216.57 L449.00,217.66 L449.25,219.29 L449.50,221.16 L449.75,222.95 L450.00,224.35 L450.25,225.11 L450.50,225.09 L450.75,224.31 L451.00,222.89 L451.25,221.09 L451.50,219.23 L451.75,217.61 L452.00,216.54 L452.25,216.20 L452.50,216.65 L452.75,217.80 L453.00,219.47 L453.25,221.35 L453.50,223.11 L453.75,224.46 L454.00,225.14 L454.25,225.05 L454.50,224.20 L454.75,222.73 L455.00,220.91 L455.25,219.05 L455.50,217.48 L455.75,216.48 L456.00,216.21 L456.25,216.73 L456.50,217.95 L456.75,219.65 L457.00,221.53 L457.25,223.27 L457.50,224.55 L457.75,225.17 L458.00,225.00 L458.25,224.07 L458.50,222.56 L458.75,220.72 L459.00,218.88 L459.25,217.35 L459.50,216.42 L459.75,216.23 L460.00,216.82 L460.25,218.10 L460.50,219.83 L460.75,221.71 L461.00,223.42 L461.25,224.65 L461.50,225.19 L461.75,224.94 L462.00,223.95 L462.25,222.39 L462.50,220.53 L462.75,218.71 L463.00,217.23 L463.25,216.36 L463.50,216.25 L463.75,216.92 L464.00,218.25 L464.25,220.01 L464.50,221.89 L464.75,223.57 L465.00,224.73 L465.25,225.20 L465.50,224.87 L465.75,223.82 L466.00,222.21 L466.25,220.35 L466.50,218.54 L466.75,217.11 L467.00,216.32 L467.25,216.28 L467.50,217.03 L467.75,218.41 L468.00,220.20 L468.25,222.07 L468.50,223.71 L468.75,224.81 L469.00,225.20 L469.25,224.80 L469.50,223.68 L469.75,222.04 L470.00,220.16 L470.25,218.38 L470.50,217.00 L470.75,216.28 L471.00,216.32 L471.25,217.14 L471.50,218.58 L471.75,220.39 L472.00,222.25 L472.25,223.84 L472.50,224.89 L472.75,225.20 L473.00,224.72 L473.25,223.54 L473.50,221.86 L473.75,219.98 L474.00,218.22 L474.25,216.90 L474.50,216.25 L474.75,216.37 L475.00,217.26 L475.25,218.74 L475.50,220.57 L475.75,222.42 L476.00,223.97 L476.25,224.95 L476.50,225.18 L476.75,224.63 L477.00,223.39 L477.25,221.67 L477.50,219.79 L477.75,218.07 L478.00,216.80 L478.25,216.22 L478.50,216.43 L478.75,217.38 L479.00,218.91 L479.25,220.76 L479.50,222.60 L479.75,224.10 L480.00,225.01 L480.25,225.16 L480.50,224.53 L480.75,223.24 L481.00,221.49 L481.25,219.61 L481.50,217.92 L481.75,216.71 L482.00,216.21 L482.25,216.49 L482.50,217.51 L482.75,219.09 L483.00,220.95 L483.25,222.76 L483.50,224.22 L483.75,225.06 L484.00,225.13 L484.25,224.43 L484.50,223.08 L484.75,221.31 L485.00,219.43 L485.25,217.77 L485.50,216.63 L485.75,216.20 L486.00,216.56 L486.25,217.64 L486.50,219.26 L486.75,221.13 L487.00,222.93 L487.25,224.33 L487.50,225.10 L487.75,225.10 L488.00,224.33 L488.25,222.92 L488.50,221.12 L488.75,219.25 L489.00,217.63 L489.25,216.55 L489.50,216.20 L489.75,216.64 L490.00,217.78 L490.25,219.44 L490.50,221.32 L490.75,223.09 L491.00,224.44 L491.25,225.14 L491.50,225.06 L491.75,224.21 L492.00,222.75 L492.25,220.93 L492.50,219.07 L492.75,217.50 L493.00,216.49 L493.25,216.21 L493.50,216.72 L493.75,217.93 L494.00,219.62 L494.25,221.50 L494.50,223.25 L494.75,224.54 L495.00,225.16 L495.25,225.01 L495.50,224.09 L495.75,222.58 L496.00,220.75 L496.25,218.90 L496.50,217.37 L496.75,216.42 L497.00,216.22 L497.25,216.81 L497.50,218.08 L497.75,219.80 L498.00,221.69 L498.25,223.40 L498.50,224.64 L498.75,225.18 L499.00,224.95 L499.25,223.97 L499.50,222.41 L499.75,220.56 L500.00,218.73 L500.25,217.25 L500.50,216.37 L500.75,216.25 L501.00,216.91 L501.25,218.23 L501.50,219.99 L501.75,221.87 L502.00,223.54 L502.25,224.72 L502.50,225.20 L502.75,224.88 L503.00,223.83 L503.25,222.24 L503.50,220.37 L503.75,218.57 L504.00,217.13 L504.25,216.32 L504.50,216.28 L504.75,217.01 L505.00,218.39 L505.25,220.17 L505.50,222.05 L505.75,223.69 L506.00,224.80 L506.25,225.20 L506.50,224.81 L506.75,223.70 L507.00,222.06 L507.25,220.19 L507.50,218.40 L507.75,217.02 L508.00,216.28 L508.25,216.32 L508.50,217.12 L508.75,218.55 L509.00,220.36 L509.25,222.23 L509.50,223.82 L509.75,224.88 L510.00,225.20 L510.25,224.73 L510.50,223.56 L510.75,221.88 L511.00,220.00 L511.25,218.24 L511.50,216.92 L511.75,216.25 L512.00,216.36 L512.25,217.24 L512.50,218.72 L512.75,220.55 L513.00,222.40 L513.25,223.96 L513.50,224.94 L513.75,225.19 L514.00,224.64 L514.25,223.41 L514.50,221.70 L514.75,219.82 L515.00,218.09 L515.25,216.82 L515.50,216.23 L515.75,216.42 L516.00,217.36 L516.25,218.89 L516.50,220.73 L516.75,222.57 L517.00,224.08 L517.25,225.00 L517.50,225.17 L517.75,224.55 L518.00,223.26 L518.25,221.52 L518.50,219.63 L518.75,217.94 L519.00,216.73 L519.25,216.21 L519.50,216.48 L519.75,217.49 L520.00,219.06 L520.25,220.92 L520.50,222.74 L520.75,224.20 L521.00,225.05 L521.25,225.14 L521.50,224.45 L521.75,223.10 L522.00,221.33 L522.25,219.45 L522.50,217.79 L522.75,216.64 L523.00,216.20 L523.25,216.55 L523.50,217.62 L523.75,219.24 L524.00,221.11 L524.25,222.91 L524.50,224.32 L524.75,225.10 L525.00,225.10 L525.25,224.34 L525.50,222.94 L525.75,221.15 L526.00,219.28 L526.25,217.65 L526.50,216.56 L526.75,216.20 L527.00,216.62 L527.25,217.76 L527.50,219.42 L527.75,221.29 L528.00,223.07 L528.25,224.43 L528.50,225.13 L528.75,225.06 L529.00,224.23 L529.25,222.78 L529.50,220.96 L529.75,219.10 L530.00,217.52 L530.25,216.49 L530.50,216.21 L530.75,216.71 L531.00,217.91 L531.25,219.60 L531.50,221.48 L531.75,223.22 L532.00,224.53 L532.25,225.16 L532.50,225.01 L532.75,224.11 L533.00,222.61 L533.25,220.77 L533.50,218.93 L533.75,217.39 L534.00,216.43 L534.25,216.22 L534.50,216.80 L534.75,218.06 L535.00,219.78 L535.25,221.66 L535.50,223.38 L535.75,224.62 L536.00,225.18 L536.25,224.96 L536.50,223.98 L536.75,222.44 L537.00,220.59 L537.25,218.76 L537.50,217.26 L537.75,216.38 L538.00,216.24 L538.25,216.89 L538.50,218.21 L538.75,219.96 L539.00,221.84 L539.25,223.52 L539.50,224.71 L539.75,225.19 L540.00,224.89 L540.25,223.85 L540.50,222.26 L540.75,220.40 L541.00,218.59 L541.25,217.15 L541.50,216.33 L541.75,216.27 L542.00,217.00 L542.25,218.37 L542.50,220.15 L542.75,222.02 L543.00,223.67 L543.25,224.79 L543.50,225.20 L543.75,224.82 L544.00,223.72 L544.25,222.09 L544.50,220.21 L544.75,218.43 L545.00,217.04 L545.25,216.29 L545.50,216.31 L545.75,217.11 L546.00,218.53 L546.25,220.33 L546.50,222.20 L546.75,223.81 L547.00,224.87 L547.25,225.20 L547.50,224.74 L547.75,223.58 L548.00,221.91 L548.25,220.03 L548.50,218.27 L548.75,216.93 L549.00,216.25 L549.25,216.36 L549.50,217.22 L549.75,218.70 L550.00,220.52 L550.25,222.38 L550.50,223.94 L550.75,224.93 L551.00,225.19 L551.25,224.65 L551.50,223.43 L551.75,221.73 L552.00,219.84 L552.25,218.11 L552.50,216.83 L552.75,216.23 L553.00,216.41 L553.25,217.34 L553.50,218.86 L553.75,220.71 L554.00,222.55 L554.25,224.07 L554.50,224.99 L554.75,225.17 L555.00,224.56 L555.25,223.28 L555.50,221.54 L555.75,219.66 L556.00,217.96 L556.25,216.74 L556.50,216.21 L556.75,216.47 L557.00,217.47 L557.25,219.04 L557.50,220.89 L557.75,222.72 L558.00,224.19 L558.25,225.05 L558.50,225.14 L558.75,224.46 L559.00,223.12 L559.25,221.36 L559.50,219.48 L559.75,217.81 L560.00,216.65 L560.25,216.20 L560.50,216.54 L560.75,217.60 L561.00,219.21 L561.25,221.08 L561.50,222.88 L561.75,224.30 L562.00,225.09 L562.25,225.11 L562.50,224.36 L562.75,222.96 L563.00,221.17 L563.25,219.30 L563.50,217.67 L563.75,216.58 L564.00,216.20 L564.25,216.61 L564.50,217.74 L564.75,219.39 L565.00,221.27 L565.25,223.04 L565.50,224.41 L565.75,225.13 L566.00,225.07 L566.25,224.24 L566.50,222.80 L566.75,220.99 L567.00,219.12 L567.25,217.54 L567.50,216.50 L567.75,216.21 L568.00,216.70 L568.25,217.89 L568.50,219.57 L568.75,221.45 L569.00,223.20 L569.25,224.51 L569.50,225.16 L569.75,225.02 L570.00,224.13 L570.25,222.63 L570.50,220.80 L570.75,218.95 L571.00,217.41 L571.25,216.44 L571.50,216.22 L571.75,216.78 L572.00,218.03 L572.25,219.75 L572.50,221.64 L572.75,223.35 L573.00,224.61 L573.25,225.18 L573.50,224.96 L573.75,224.00 L574.00,222.46 L574.25,220.61 L574.50,218.78 L574.75,217.28 L575.00,216.38 L575.25,216.24 L575.50,216.88 L575.75,218.19 L576.00,219.94 L576.25,221.82 L576.50,223.50 L576.75,224.70 L577.00,225.19 L577.25,224.90 L577.50,223.87 L577.75,222.29 L578.00,220.43 L578.25,218.61 L578.50,217.16 L578.75,216.33 L579.00,216.27 L579.25,216.98 L579.50,218.34 L579.75,220.12 L580.00,222.00 L580.25,223.65 L580.50,224.78 L580.75,225.20 L581.00,224.83 L581.25,223.74 L581.50,222.11 L581.75,220.24 L582.00,218.45 L582.25,217.05 L582.50,216.29 L582.75,216.31 L583.00,217.09 L583.25,218.51 L583.50,220.31 L583.75,222.18 L584.00,223.79 L584.25,224.86 L584.50,225.20 L584.75,224.75 L585.00,223.60 L585.25,221.93 L585.50,220.05 L585.75,218.29 L586.00,216.94 L586.25,216.26 L586.50,216.35 L586.75,217.21 L587.00,218.67 L587.25,220.49 L587.50,222.35 L587.75,223.92 L588.00,224.92 L588.25,225.19 L588.50,224.67 L588.75,223.45 L589.00,221.75 L589.25,219.87 L589.50,218.13 L589.75,216.84 L590.00,216.23 L590.25,216.40 L590.50,217.33 L590.75,218.84 L591.00,220.68 L591.25,222.52 L591.50,224.05 L591.75,224.99 L592.00,225.17 L592.25,224.58 L592.50,223.30 L592.75,221.57 L593.00,219.69 L593.25,217.98 L593.50,216.75 L593.75,216.21 L594.00,216.46 L594.25,217.45 L594.50,219.01 L594.75,220.87 L595.00,222.69 L595.25,224.17 L595.50,225.04 L595.75,225.15 L596.00,224.48 L596.25,223.15 L596.50,221.39 L596.75,219.51 L597.00,217.83 L597.25,216.67 L597.50,216.20 L597.75,216.53 L598.00,217.58 L598.25,219.19 L598.50,221.05 L598.75,222.86 L599.00,224.29" fill="none" stroke="#924526" stroke-width="1.1" stroke-linejoin="round"/>
<path d="M63.60,393.00 L160.30,393.00 L160.70,386.00 L161.00,345.00 L161.50,288.00 L161.90,266.20 L162.40,316.00 L162.90,274.00 L163.40,318.00 L163.90,274.00 L164.20,300.00 L164.50,273.30 L165.30,310.00 L166.10,338.00 L166.90,356.00 L167.70,378.00 L168.40,392.70 L169.10,380.00 L169.90,368.00 L171.50,343.30 L172.50,331.00 L173.20,345.00 L174.10,354.60 L175.00,348.00 L175.70,344.90 L176.70,356.00 L177.70,365.80 L178.70,352.00 L179.50,345.00 L180.40,352.00 L181.30,360.20 L181.55,359.02 L181.80,357.01 L182.05,354.28 L182.30,351.31 L182.55,348.61 L182.80,346.67 L183.05,345.82 L183.30,346.21 L183.55,347.77 L183.80,350.23 L184.05,353.16 L184.30,356.04 L184.55,358.37 L184.80,359.74 L185.05,359.92 L185.30,358.86 L185.55,356.76 L185.80,353.99 L186.05,351.02 L186.30,348.38 L186.55,346.54 L186.80,345.81 L187.05,346.32 L187.30,347.98 L187.55,350.51 L187.80,353.45 L188.05,356.30 L188.30,358.55 L188.55,359.82 L188.80,359.87 L189.05,358.70 L189.30,356.51 L189.55,353.69 L189.80,350.74 L190.05,348.16 L190.30,346.41 L190.55,345.80 L190.80,346.43 L191.05,348.20 L191.30,350.79 L191.55,353.75 L191.80,356.56 L192.05,358.73 L192.30,359.88 L192.55,359.80 L192.80,358.52 L193.05,356.26 L193.30,353.40 L193.55,350.46 L193.80,347.94 L194.05,346.30 L194.30,345.81 L194.55,346.56 L194.80,348.42 L195.05,351.07 L195.30,354.04 L195.55,356.81 L195.80,358.89 L196.05,359.93 L196.30,359.73 L196.55,358.34 L196.80,355.99 L197.05,353.11 L197.30,350.18 L197.55,347.74 L197.80,346.19 L198.05,345.83 L198.30,346.70 L198.55,348.66 L198.80,351.36 L199.05,354.33 L199.30,357.05 L199.55,359.04 L199.80,359.96 L200.05,359.64 L200.30,358.14 L200.55,355.72 L200.80,352.81 L201.05,349.91 L201.30,347.54 L201.55,346.10 L201.80,345.86 L202.05,346.85 L202.30,348.90 L202.55,351.65 L202.80,354.62 L203.05,357.29 L203.30,359.19 L203.55,359.99 L203.80,359.54 L204.05,357.94 L204.30,355.45 L204.55,352.52 L204.80,349.65 L205.05,347.35 L205.30,346.02 L205.55,345.90 L205.80,347.01 L206.05,349.14 L206.30,351.94 L206.55,354.90 L206.80,357.51 L207.05,359.32 L207.30,360.00 L207.55,359.44 L207.80,357.73 L208.05,355.17 L208.30,352.22 L208.55,349.39 L208.80,347.17 L209.05,345.96 L209.30,345.96 L209.55,347.18 L209.80,349.40 L210.05,352.23 L210.30,355.18 L210.55,357.73 L210.80,359.44 L211.05,360.00 L211.30,359.31 L211.55,357.51 L211.80,354.89 L212.05,351.93 L212.30,349.13 L212.55,347.00 L212.80,345.90 L213.05,346.03 L213.30,347.36 L213.55,349.66 L213.80,352.53 L214.05,355.46 L214.30,357.95 L214.55,359.55 L214.80,359.99 L215.05,359.18 L215.30,357.28 L215.55,354.61 L215.80,351.64 L216.05,348.89 L216.30,346.84 L216.55,345.86 L216.80,346.11 L217.05,347.55 L217.30,349.92 L217.55,352.82 L217.80,355.73 L218.05,358.15 L218.30,359.65 L218.55,359.96 L218.80,359.04 L219.05,357.04 L219.30,354.32 L219.55,351.35 L219.80,348.65 L220.05,346.69 L220.30,345.83 L220.55,346.20 L220.80,347.74 L221.05,350.19 L221.30,353.12 L221.55,356.00 L221.80,358.34 L222.05,359.73 L222.30,359.92 L222.55,358.89 L222.80,356.80 L223.05,354.03 L223.30,351.06 L223.55,348.42 L223.80,346.56 L224.05,345.81 L224.30,346.30 L224.55,347.95 L224.80,350.47 L225.05,353.41 L225.30,356.26 L225.55,358.53 L225.80,359.81 L226.05,359.88 L226.30,358.72 L226.55,356.55 L226.80,353.74 L227.05,350.78 L227.30,348.19 L227.55,346.43 L227.80,345.80 L228.05,346.42 L228.30,348.17 L228.55,350.75 L228.80,353.70 L229.05,356.52 L229.30,358.70 L229.55,359.87 L229.80,359.81 L230.05,358.55 L230.30,356.29 L230.55,353.44 L230.80,350.50 L231.05,347.97 L231.30,346.31 L231.55,345.81 L231.80,346.54 L232.05,348.39 L232.30,351.03 L232.55,354.00 L232.80,356.77 L233.05,358.87 L233.30,359.92 L233.55,359.74 L233.80,358.36 L234.05,356.03 L234.30,353.15 L234.55,350.22 L234.80,347.77 L235.05,346.21 L235.30,345.82 L235.55,346.68 L235.80,348.62 L236.05,351.32 L236.30,354.29 L236.55,357.02 L236.80,359.02 L237.05,359.96 L237.30,359.66 L237.55,358.17 L237.80,355.76 L238.05,352.85 L238.30,349.95 L238.55,347.57 L238.80,346.12 L239.05,345.85 L239.30,346.83 L239.55,348.86 L239.80,351.61 L240.05,354.58 L240.30,357.25 L240.55,359.17 L240.80,359.98 L241.05,359.56 L241.30,357.97 L241.55,355.49 L241.80,352.56 L242.05,349.69 L242.30,347.38 L242.55,346.03 L242.80,345.90 L243.05,346.98 L243.30,349.11 L243.55,351.90 L243.80,354.86 L244.05,357.48 L244.30,359.30 L244.55,360.00 L244.80,359.45 L245.05,357.76 L245.30,355.21 L245.55,352.26 L245.80,349.42 L246.05,347.20 L246.30,345.97 L246.55,345.95 L246.80,347.15 L247.05,349.36 L247.30,352.19 L247.55,355.14 L247.80,357.70 L248.05,359.42 L248.30,360.00 L248.55,359.33 L248.80,357.54 L249.05,354.93 L249.30,351.97 L249.55,349.17 L249.80,347.02 L250.05,345.91 L250.30,346.02 L250.55,347.33 L250.80,349.62 L251.05,352.48 L251.30,355.42 L251.55,357.92 L251.80,359.53 L252.05,359.99 L252.30,359.20 L252.55,357.31 L252.80,354.65 L253.05,351.68 L253.30,348.92 L253.55,346.86 L253.80,345.86 L254.05,346.09 L254.30,347.52 L254.55,349.88 L254.80,352.78 L255.05,355.69 L255.30,358.12 L255.55,359.63 L255.80,359.97 L256.05,359.06 L256.30,357.08 L256.55,354.36 L256.80,351.39 L257.05,348.68 L257.30,346.71 L257.55,345.83 L257.80,346.18 L258.05,347.71 L258.30,350.15 L258.55,353.07 L258.80,355.96 L259.05,358.32 L259.30,359.72 L259.55,359.93 L259.80,358.91 L260.05,356.83 L260.30,354.07 L260.55,351.10 L260.80,348.45 L261.05,346.57 L261.30,345.81 L261.55,346.29 L261.80,347.92 L262.05,350.43 L262.30,353.37 L262.55,356.23 L262.80,358.50 L263.05,359.80 L263.30,359.88 L263.55,358.75 L263.80,356.58 L264.05,353.78 L264.30,350.82 L264.55,348.22 L264.80,346.45 L265.05,345.80 L265.30,346.40 L265.55,348.14 L265.80,350.71 L266.05,353.66 L266.30,356.49 L266.55,358.68 L266.80,359.86 L267.05,359.82 L267.30,358.57 L267.55,356.33 L267.80,353.48 L268.05,350.54 L268.30,348.00 L268.55,346.33 L268.80,345.80 L269.05,346.52 L269.30,348.36 L269.55,350.99 L269.80,353.96 L270.05,356.74 L270.30,358.85 L270.55,359.91 L270.80,359.75 L271.05,358.39 L271.30,356.07 L271.55,353.19 L271.80,350.26 L272.05,347.79 L272.30,346.22 L272.55,345.82 L272.80,346.66 L273.05,348.59 L273.30,351.28 L273.55,354.25 L273.80,356.98 L274.05,359.00 L274.30,359.95 L274.55,359.67 L274.80,358.20 L275.05,355.80 L275.30,352.89 L275.55,349.99 L275.80,347.59 L276.05,346.13 L276.30,345.85 L276.55,346.80 L276.80,348.83 L277.05,351.56 L277.30,354.54 L277.55,357.22 L277.80,359.15 L278.05,359.98 L278.30,359.57 L278.55,358.00 L278.80,355.53 L279.05,352.60 L279.30,349.72 L279.55,347.40 L279.80,346.05 L280.05,345.89 L280.30,346.96 L280.55,349.07 L280.80,351.86 L281.05,354.82 L281.30,357.45 L281.55,359.28 L281.80,360.00 L282.05,359.47 L282.30,357.79 L282.55,355.25 L282.80,352.30 L283.05,349.46 L283.30,347.22 L283.55,345.97 L283.80,345.94 L284.05,347.13 L284.30,349.32 L284.55,352.15 L284.80,355.10 L285.05,357.67 L285.30,359.41 L285.55,360.00 L285.80,359.35 L286.05,357.57 L286.30,354.97 L286.55,352.01 L286.80,349.21 L287.05,347.05 L287.30,345.92 L287.55,346.01 L287.80,347.30 L288.05,349.58 L288.30,352.44 L288.55,355.38 L288.80,357.89 L289.05,359.52 L289.30,359.99 L289.55,359.22 L289.80,357.34 L290.05,354.69 L290.30,351.72 L290.55,348.96 L290.80,346.89 L291.05,345.87 L291.30,346.08 L291.55,347.49 L291.80,349.85 L292.05,352.74 L292.30,355.66 L292.55,358.09 L292.80,359.62 L293.05,359.97 L293.30,359.08 L293.55,357.11 L293.80,354.40 L294.05,351.43 L294.30,348.72 L294.55,346.73 L294.80,345.83 L295.05,346.17 L295.30,347.69 L295.55,350.12 L295.80,353.03 L296.05,355.93 L296.30,358.29 L296.55,359.71 L296.80,359.94 L297.05,358.93 L297.30,356.87 L297.55,354.11 L297.80,351.14 L298.05,348.48 L298.30,346.59 L298.55,345.81 L298.80,346.27 L299.05,347.89 L299.30,350.39 L299.55,353.33 L299.80,356.19 L300.05,358.48 L300.30,359.79 L300.55,359.89 L300.80,358.77 L301.05,356.62 L301.30,353.82 L301.55,350.86 L301.80,348.25 L302.05,346.46 L302.30,345.80 L302.55,346.38 L302.80,348.10 L303.05,350.67 L303.30,353.62 L303.55,356.45 L303.80,358.65 L304.05,359.85 L304.30,359.83 L304.55,358.60 L304.80,356.37 L305.05,353.53 L305.30,350.58 L305.55,348.03 L305.80,346.34 L306.05,345.80 L306.30,346.50 L306.55,348.33 L306.80,350.95 L307.05,353.91 L307.30,356.70 L307.55,358.82 L307.80,359.91 L308.05,359.76 L308.30,358.42 L308.55,356.10 L308.80,353.23 L309.05,350.30 L309.30,347.82 L309.55,346.24 L309.80,345.82 L310.05,346.64 L310.30,348.56 L310.55,351.23 L310.80,354.21 L311.05,356.95 L311.30,358.98 L311.55,359.95 L311.80,359.68 L312.05,358.23 L312.30,355.84 L312.55,352.94 L312.80,350.03 L313.05,347.62 L313.30,346.14 L313.55,345.84 L313.80,346.78 L314.05,348.79 L314.30,351.52 L314.55,354.49 L314.80,357.19 L315.05,359.13 L315.30,359.98 L315.55,359.59 L315.80,358.03 L316.05,355.57 L316.30,352.64 L316.55,349.76 L316.80,347.43 L317.05,346.06 L317.30,345.88 L317.55,346.94 L317.80,349.04 L318.05,351.81 L318.30,354.78 L318.55,357.42 L318.80,359.26 L319.05,359.99 L319.30,359.48 L319.55,357.82 L319.80,355.29 L320.05,352.35 L320.30,349.50 L320.55,347.25 L320.80,345.98 L321.05,345.93 L321.30,347.10 L321.55,349.29 L321.80,352.11 L322.05,355.06 L322.30,357.64 L322.55,359.39 L322.80,360.00 L323.05,359.37 L323.30,357.60 L323.55,355.01 L323.80,352.05 L324.05,349.24 L324.30,347.07 L324.55,345.92 L324.80,346.00 L325.05,347.28 L325.30,349.55 L325.55,352.40 L325.80,355.34 L326.05,357.86 L326.30,359.50 L326.55,359.99 L326.80,359.24 L327.05,357.38 L327.30,354.73 L327.55,351.76 L327.80,348.99 L328.05,346.91 L328.30,345.87 L328.55,346.07 L328.80,347.46 L329.05,349.81 L329.30,352.70 L329.55,355.62 L329.80,358.06 L330.05,359.61 L330.30,359.97 L330.55,359.10 L330.80,357.14 L331.05,354.44 L331.30,351.47 L331.55,348.75 L331.80,346.76 L332.05,345.84 L332.30,346.16 L332.55,347.66 L332.80,350.08 L333.05,352.99 L333.30,355.89 L333.55,358.26 L333.80,359.70 L334.05,359.94 L334.30,358.95 L334.55,356.90 L334.80,354.15 L335.05,351.18 L335.30,348.51 L335.55,346.61 L335.80,345.81 L336.05,346.26 L336.30,347.86 L336.55,350.35 L336.80,353.29 L337.05,356.15 L337.30,358.45 L337.55,359.78 L337.80,359.90 L338.05,358.79 L338.30,356.66 L338.55,353.86 L338.80,350.90 L339.05,348.29 L339.30,346.48 L339.55,345.80 L339.80,346.37 L340.05,348.07 L340.30,350.63 L340.55,353.58 L340.80,356.41 L341.05,358.63 L341.30,359.84 L341.55,359.84 L341.80,358.62 L342.05,356.40 L342.30,353.57 L342.55,350.62 L342.80,348.06 L343.05,346.36 L343.30,345.80 L343.55,346.49 L343.80,348.29 L344.05,350.91 L344.30,353.87 L344.55,356.67 L344.80,358.80 L345.05,359.90 L345.30,359.77 L345.55,358.44 L345.80,356.14 L346.05,353.27 L346.30,350.34 L346.55,347.85 L346.80,346.25 L347.05,345.81 L347.30,346.62 L347.55,348.52 L347.80,351.19 L348.05,354.16 L348.30,356.91 L348.55,358.96 L348.80,359.94 L349.05,359.69 L349.30,358.25 L349.55,355.88 L349.80,352.98 L350.05,350.07 L350.30,347.65 L350.55,346.15 L350.80,345.84 L351.05,346.76 L351.30,348.76 L351.55,351.48 L351.80,354.45 L352.05,357.15 L352.30,359.11 L352.55,359.97 L352.80,359.60 L353.05,358.06 L353.30,355.61 L353.55,352.68 L353.80,349.80 L354.05,347.46 L354.30,346.07 L354.55,345.88 L354.80,346.91 L355.05,349.00 L355.30,351.77 L355.55,354.74 L355.80,357.39 L356.05,359.25 L356.30,359.99 L356.55,359.50 L356.80,357.85 L357.05,355.33 L357.30,352.39 L357.55,349.53 L357.80,347.27 L358.05,345.99 L358.30,345.93 L358.55,347.08 L358.80,349.25 L359.05,352.06 L359.30,355.02 L359.55,357.61 L359.80,359.37 L360.05,360.00 L360.30,359.38 L360.55,357.63 L360.80,355.05 L361.05,352.09 L361.30,349.28 L361.55,347.10 L361.80,345.93 L362.05,345.99 L362.30,347.25 L362.55,349.51 L362.80,352.36 L363.05,355.30 L363.30,357.83 L363.55,359.49 L363.80,359.99 L364.05,359.26 L364.30,357.41 L364.55,354.77 L364.80,351.80 L365.05,349.03 L365.30,346.93 L365.55,345.88 L365.80,346.06 L366.05,347.44 L366.30,349.77 L366.55,352.65 L366.80,355.58 L367.05,358.04 L367.30,359.59 L367.55,359.98 L367.80,359.12 L368.05,357.18 L368.30,354.48 L368.55,351.51 L368.80,348.78 L369.05,346.78 L369.30,345.84 L369.55,346.14 L369.80,347.63 L370.05,350.04 L370.30,352.95 L370.55,355.85 L370.80,358.23 L371.05,359.68 L371.30,359.95 L371.55,358.97 L371.80,356.94 L372.05,354.19 L372.30,351.22 L372.55,348.55 L372.80,346.63 L373.05,345.82 L373.30,346.24 L373.55,347.83 L373.80,350.31 L374.05,353.24 L374.30,356.12 L374.55,358.42 L374.80,359.77 L375.05,359.90 L375.30,358.82 L375.55,356.69 L375.80,353.90 L376.05,350.94 L376.30,348.32 L376.55,346.50 L376.80,345.80 L377.05,346.35 L377.30,348.04 L377.55,350.59 L377.80,353.54 L378.05,356.38 L378.30,358.61 L378.55,359.84 L378.80,359.85 L379.05,358.65 L379.30,356.44 L379.55,353.61 L379.80,350.66 L380.05,348.10 L380.30,346.38 L380.55,345.80 L380.80,346.47 L381.05,348.26 L381.30,350.87 L381.55,353.83 L381.80,356.63 L382.05,358.78 L382.30,359.89 L382.55,359.78 L382.80,358.47 L383.05,356.18 L383.30,353.31 L383.55,350.38 L383.80,347.88 L384.05,346.27 L384.30,345.81 L384.55,346.60 L384.80,348.49 L385.05,351.15 L385.30,354.12 L385.55,356.88 L385.80,358.94 L386.05,359.94 L386.30,359.71 L386.55,358.28 L386.80,355.91 L387.05,353.02 L387.30,350.10 L387.55,347.68 L387.80,346.17 L388.05,345.83 L388.30,346.74 L388.55,348.73 L388.80,351.44 L389.05,354.41 L389.30,357.12 L389.55,359.09 L389.80,359.97 L390.05,359.62 L390.30,358.08 L390.55,355.65 L390.80,352.72 L391.05,349.84 L391.30,347.48 L391.55,346.08 L391.80,345.87 L392.05,346.89 L392.30,348.97 L392.55,351.73 L392.80,354.70 L393.05,357.35 L393.30,359.23 L393.55,359.99 L393.80,359.51 L394.05,357.88 L394.30,355.37 L394.55,352.43 L394.80,349.57 L395.05,347.30 L395.30,346.00 L395.55,345.92 L395.80,347.06 L396.05,349.22 L396.30,352.02 L396.55,354.98 L396.80,357.58 L397.05,359.35 L397.30,360.00 L397.55,359.40 L397.80,357.66 L398.05,355.09 L398.30,352.14 L398.55,349.31 L398.80,347.12 L399.05,345.94 L399.30,345.98 L399.55,347.23 L399.80,349.47 L400.05,352.32 L400.30,355.26 L400.55,357.80 L400.80,359.47 L401.05,360.00 L401.30,359.28 L401.55,357.44 L401.80,354.81 L402.05,351.84 L402.30,349.06 L402.55,346.95 L402.80,345.89 L403.05,346.05 L403.30,347.41 L403.55,349.73 L403.80,352.61 L404.05,355.54 L404.30,358.01 L404.55,359.58 L404.80,359.98 L405.05,359.14 L405.30,357.21 L405.55,354.52 L405.80,351.55 L406.05,348.82 L406.30,346.80 L406.55,345.85 L406.80,346.13 L407.05,347.60 L407.30,350.00 L407.55,352.91 L407.80,355.81 L408.05,358.21 L408.30,359.67 L408.55,359.95 L408.80,359.00 L409.05,356.97 L409.30,354.23 L409.55,351.26 L409.80,348.58 L410.05,346.65 L410.30,345.82 L410.55,346.23 L410.80,347.80 L411.05,350.27 L411.30,353.20 L411.55,356.08 L411.80,358.40 L412.05,359.76 L412.30,359.91 L412.55,358.84 L412.80,356.73 L413.05,353.94 L413.30,350.98 L413.55,348.35 L413.80,346.52 L414.05,345.80 L414.30,346.33 L414.55,348.01 L414.80,350.55 L415.05,353.50 L415.30,356.34 L415.55,358.58 L415.80,359.83 L416.05,359.86 L416.30,358.67 L416.55,356.47 L416.80,353.65 L417.05,350.70 L417.30,348.13 L417.55,346.39 L417.80,345.80 L418.05,346.45 L418.30,348.23 L418.55,350.83 L418.80,353.79 L419.05,356.59 L419.30,358.75 L419.55,359.89 L419.80,359.79 L420.05,358.50 L420.30,356.22 L420.55,353.36 L420.80,350.42 L421.05,347.91 L421.30,346.28 L421.55,345.81 L421.80,346.58 L422.05,348.46 L422.30,351.11 L422.55,354.08 L422.80,356.84 L423.05,358.91 L423.30,359.93 L423.55,359.72 L423.80,358.31 L424.05,355.95 L424.30,353.06 L424.55,350.14 L424.80,347.71 L425.05,346.18 L425.30,345.83 L425.55,346.72 L425.80,348.69 L426.05,351.40 L426.30,354.37 L426.55,357.09 L426.80,359.07 L427.05,359.97 L427.30,359.63 L427.55,358.11 L427.80,355.68 L428.05,352.77 L428.30,349.87 L428.55,347.51 L428.80,346.09 L429.05,345.86 L429.30,346.87 L429.55,348.93 L429.80,351.69 L430.05,354.66 L430.30,357.32 L430.55,359.21 L430.80,359.99 L431.05,359.53 L431.30,357.91 L431.55,355.41 L431.80,352.47 L432.05,349.61 L432.30,347.32 L432.55,346.01 L432.80,345.91 L433.05,347.03 L433.30,349.18 L433.55,351.98 L433.80,354.94 L434.05,357.55 L434.30,359.34 L434.55,360.00 L434.80,359.42 L435.05,357.69 L435.30,355.13 L435.55,352.18 L435.80,349.35 L436.05,347.14 L436.30,345.95 L436.55,345.97 L436.80,347.20 L437.05,349.44 L437.30,352.28 L437.55,355.22 L437.80,357.77 L438.05,359.46 L438.30,360.00 L438.55,359.30 L438.80,357.47 L439.05,354.85 L439.30,351.88 L439.55,349.10 L439.80,346.98 L440.05,345.89 L440.30,346.04 L440.55,347.38 L440.80,349.70 L441.05,352.57 L441.30,355.50 L441.55,357.98 L441.80,359.56 L442.05,359.98 L442.30,359.16 L442.55,357.24 L442.80,354.56 L443.05,351.59 L443.30,348.85 L443.55,346.82 L443.80,345.85 L444.05,346.12 L444.30,347.57 L444.55,349.96 L444.80,352.86 L445.05,355.77 L445.30,358.18 L445.55,359.66 L445.80,359.96 L446.05,359.02 L446.30,357.01 L446.55,354.28 L446.80,351.30 L447.05,348.61 L447.30,346.67 L447.55,345.82 L447.80,346.21 L448.05,347.77 L448.30,350.23 L448.55,353.16 L448.80,356.04 L449.05,358.37 L449.30,359.74 L449.55,359.92 L449.80,358.86 L450.05,356.76 L450.30,353.98 L450.55,351.02 L450.80,348.38 L451.05,346.54 L451.30,345.81 L451.55,346.32 L451.80,347.98 L452.05,350.51 L452.30,353.45 L452.55,356.30 L452.80,358.56 L453.05,359.82 L453.30,359.87 L453.55,358.70 L453.80,356.51 L454.05,353.69 L454.30,350.74 L454.55,348.16 L454.80,346.41 L455.05,345.80 L455.30,346.43 L455.55,348.20 L455.80,350.79 L456.05,353.75 L456.30,356.56 L456.55,358.73 L456.80,359.88 L457.05,359.80 L457.30,358.52 L457.55,356.25 L457.80,353.40 L458.05,350.46 L458.30,347.94 L458.55,346.30 L458.80,345.81 L459.05,346.56 L459.30,348.42 L459.55,351.07 L459.80,354.04 L460.05,356.81 L460.30,358.89 L460.55,359.93 L460.80,359.73 L461.05,358.34 L461.30,355.99 L461.55,353.10 L461.80,350.18 L462.05,347.74 L462.30,346.19 L462.55,345.83 L462.80,346.70 L463.05,348.66 L463.30,351.36 L463.55,354.33 L463.80,357.05 L464.05,359.05 L464.30,359.96 L464.55,359.64 L464.80,358.14 L465.05,355.72 L465.30,352.81 L465.55,349.91 L465.80,347.54 L466.05,346.10 L466.30,345.86 L466.55,346.85 L466.80,348.90 L467.05,351.65 L467.30,354.62 L467.55,357.29 L467.80,359.19 L468.05,359.99 L468.30,359.54 L468.55,357.94 L468.80,355.45 L469.05,352.51 L469.30,349.65 L469.55,347.35 L469.80,346.02 L470.05,345.90 L470.30,347.01 L470.55,349.15 L470.80,351.94 L471.05,354.90 L471.30,357.52 L471.55,359.32 L471.80,360.00 L472.05,359.43 L472.30,357.73 L472.55,355.17 L472.80,352.22 L473.05,349.39 L473.30,347.17 L473.55,345.96 L473.80,345.96 L474.05,347.18 L474.30,349.40 L474.55,352.23 L474.80,355.18 L475.05,357.74 L475.30,359.44 L475.55,360.00 L475.80,359.31 L476.05,357.50 L476.30,354.89 L476.55,351.93 L476.80,349.13 L477.05,347.00 L477.30,345.90 L477.55,346.03 L477.80,347.36 L478.05,349.66 L478.30,352.53 L478.55,355.46 L478.80,357.95 L479.05,359.55 L479.30,359.99 L479.55,359.18 L479.80,357.28 L480.05,354.60 L480.30,351.63 L480.55,348.89 L480.80,346.84 L481.05,345.86 L481.30,346.11 L481.55,347.55 L481.80,349.92 L482.05,352.82 L482.30,355.74 L482.55,358.15 L482.80,359.65 L483.05,359.96 L483.30,359.04 L483.55,357.04 L483.80,354.32 L484.05,351.35 L484.30,348.65 L484.55,346.69 L484.80,345.83 L485.05,346.20 L485.30,347.74 L485.55,350.19 L485.80,353.12 L486.05,356.00 L486.30,358.35 L486.55,359.73 L486.80,359.92 L487.05,358.88 L487.30,356.80 L487.55,354.03 L487.80,351.06 L488.05,348.41 L488.30,346.55 L488.55,345.81 L488.80,346.30 L489.05,347.95 L489.30,350.47 L489.55,353.41 L489.80,356.27 L490.05,358.53 L490.30,359.81 L490.55,359.87 L490.80,358.72 L491.05,356.55 L491.30,353.73 L491.55,350.78 L491.80,348.19 L492.05,346.43 L492.30,345.80 L492.55,346.42 L492.80,348.17 L493.05,350.75 L493.30,353.71 L493.55,356.52 L493.80,358.70 L494.05,359.87 L494.30,359.81 L494.55,358.55 L494.80,356.29 L495.05,353.44 L495.30,350.50 L495.55,347.97 L495.80,346.31 L496.05,345.81 L496.30,346.54 L496.55,348.39 L496.80,351.03 L497.05,354.00 L497.30,356.77 L497.55,358.87 L497.80,359.92 L498.05,359.74 L498.30,358.36 L498.55,356.03 L498.80,353.15 L499.05,350.22 L499.30,347.76 L499.55,346.21 L499.80,345.82 L500.05,346.68 L500.30,348.62 L500.55,351.32 L500.80,354.29 L501.05,357.02 L501.30,359.02 L501.55,359.96 L501.80,359.66 L502.05,358.17 L502.30,355.76 L502.55,352.85 L502.80,349.95 L503.05,347.56 L503.30,346.11 L503.55,345.85 L503.80,346.83 L504.05,348.86 L504.30,351.61 L504.55,354.58 L504.80,357.25 L505.05,359.17 L505.30,359.98 L505.55,359.56 L505.80,357.97 L506.05,355.49 L506.30,352.56 L506.55,349.68 L506.80,347.37 L507.05,346.03 L507.30,345.90 L507.55,346.98 L507.80,349.11 L508.05,351.90 L508.30,354.86 L508.55,357.48 L508.80,359.30 L509.05,360.00 L509.30,359.45 L509.55,357.76 L509.80,355.21 L510.05,352.26 L510.30,349.42 L510.55,347.19 L510.80,345.96 L511.05,345.95 L511.30,347.15 L511.55,349.36 L511.80,352.19 L512.05,355.15 L512.30,357.71 L512.55,359.42 L512.80,360.00 L513.05,359.33 L513.30,357.54 L513.55,354.93 L513.80,351.97 L514.05,349.17 L514.30,347.02 L514.55,345.91 L514.80,346.02 L515.05,347.33 L515.30,349.62 L515.55,352.49 L515.80,355.42 L516.05,357.92 L516.30,359.53 L516.55,359.99 L516.80,359.20 L517.05,357.31 L517.30,354.65 L517.55,351.68 L517.80,348.92 L518.05,346.86 L518.30,345.86 L518.55,346.09 L518.80,347.52 L519.05,349.89 L519.30,352.78 L519.55,355.70 L519.80,358.12 L520.05,359.63 L520.30,359.97 L520.55,359.06 L520.80,357.07 L521.05,354.36 L521.30,351.39 L521.55,348.68 L521.80,346.71 L522.05,345.83 L522.30,346.18 L522.55,347.72 L522.80,350.16 L523.05,353.08 L523.30,355.97 L523.55,358.32 L523.80,359.72 L524.05,359.93 L524.30,358.91 L524.55,356.83 L524.80,354.07 L525.05,351.10 L525.30,348.45 L525.55,346.57 L525.80,345.81 L526.05,346.29 L526.30,347.92 L526.55,350.43 L526.80,353.37 L527.05,356.23 L527.30,358.50 L527.55,359.80 L527.80,359.88 L528.05,358.74 L528.30,356.58 L528.55,353.78 L528.80,350.82 L529.05,348.22 L529.30,346.44 L529.55,345.80 L529.80,346.40 L530.05,348.14 L530.30,350.71 L530.55,353.67 L530.80,356.49 L531.05,358.68 L531.30,359.86 L531.55,359.82 L531.80,358.57 L532.05,356.33 L532.30,353.48 L532.55,350.53 L532.80,348.00 L533.05,346.33 L533.30,345.80 L533.55,346.52 L533.80,348.36 L534.05,350.99 L534.30,353.96 L534.55,356.74 L534.80,358.85 L535.05,359.91 L535.30,359.75 L535.55,358.39 L535.80,356.07 L536.05,353.19 L536.30,350.26 L536.55,347.79 L536.80,346.22 L537.05,345.82 L537.30,346.66 L537.55,348.59 L537.80,351.28 L538.05,354.25 L538.30,356.98 L538.55,359.00 L538.80,359.95 L539.05,359.67 L539.30,358.20 L539.55,355.80 L539.80,352.89 L540.05,349.99 L540.30,347.59 L540.55,346.13 L540.80,345.85 L541.05,346.81 L541.30,348.83 L541.55,351.57 L541.80,354.54 L542.05,357.22 L542.30,359.15 L542.55,359.98 L542.80,359.57 L543.05,358.00 L543.30,355.53 L543.55,352.60 L543.80,349.72 L544.05,347.40 L544.30,346.04 L544.55,345.89 L544.80,346.96 L545.05,349.07 L545.30,351.86 L545.55,354.82 L545.80,357.45 L546.05,359.28 L546.30,360.00 L546.55,359.47 L546.80,357.79 L547.05,355.25 L547.30,352.30 L547.55,349.46 L547.80,347.22 L548.05,345.97 L548.30,345.94 L548.55,347.13 L548.80,349.33 L549.05,352.15 L549.30,355.11 L549.55,357.67 L549.80,359.41 L550.05,360.00 L550.30,359.35 L550.55,357.57 L550.80,354.97 L551.05,352.01 L551.30,349.20 L551.55,347.05 L551.80,345.91 L552.05,346.01 L552.30,347.31 L552.55,349.58 L552.80,352.44 L553.05,355.38 L553.30,357.89 L553.55,359.52 L553.80,359.99 L554.05,359.22 L554.30,357.34 L554.55,354.69 L554.80,351.72 L555.05,348.96 L555.30,346.88 L555.55,345.87 L555.80,346.08 L556.05,347.49 L556.30,349.85 L556.55,352.74 L556.80,355.66 L557.05,358.09 L557.30,359.62 L557.55,359.97 L557.80,359.08 L558.05,357.11 L558.30,354.40 L558.55,351.43 L558.80,348.71 L559.05,346.73 L559.30,345.83 L559.55,346.17 L559.80,347.69 L560.05,350.12 L560.30,353.03 L560.55,355.93 L560.80,358.29 L561.05,359.71 L561.30,359.94 L561.55,358.93 L561.80,356.87 L562.05,354.11 L562.30,351.14 L562.55,348.48 L562.80,346.59 L563.05,345.81 L563.30,346.27 L563.55,347.89 L563.80,350.39 L564.05,353.33 L564.30,356.19 L564.55,358.48 L564.80,359.79 L565.05,359.89 L565.30,358.77 L565.55,356.62 L565.80,353.82 L566.05,350.86 L566.30,348.25 L566.55,346.46 L566.80,345.80 L567.05,346.38 L567.30,348.11 L567.55,350.67 L567.80,353.62 L568.05,356.45 L568.30,358.66 L568.55,359.85 L568.80,359.83 L569.05,358.60 L569.30,356.36 L569.55,353.52 L569.80,350.57 L570.05,348.03 L570.30,346.34 L570.55,345.80 L570.80,346.51 L571.05,348.33 L571.30,350.95 L571.55,353.92 L571.80,356.70 L572.05,358.82 L572.30,359.91 L572.55,359.76 L572.80,358.42 L573.05,356.10 L573.30,353.23 L573.55,350.30 L573.80,347.82 L574.05,346.24 L574.30,345.82 L574.55,346.64 L574.80,348.56 L575.05,351.24 L575.30,354.21 L575.55,356.95 L575.80,358.98 L576.05,359.95 L576.30,359.68 L576.55,358.23 L576.80,355.84 L577.05,352.93 L577.30,350.03 L577.55,347.62 L577.80,346.14 L578.05,345.84 L578.30,346.78 L578.55,348.79 L578.80,351.53 L579.05,354.50 L579.30,357.19 L579.55,359.13 L579.80,359.98 L580.05,359.59 L580.30,358.03 L580.55,355.57 L580.80,352.64 L581.05,349.76 L581.30,347.43 L581.55,346.06 L581.80,345.88 L582.05,346.94 L582.30,349.04 L582.55,351.82 L582.80,354.78 L583.05,357.42 L583.30,359.26 L583.55,360.00 L583.80,359.48 L584.05,357.82 L584.30,355.29 L584.55,352.34 L584.80,349.50 L585.05,347.24 L585.30,345.98 L585.55,345.93 L585.80,347.10 L586.05,349.29 L586.30,352.11 L586.55,355.07 L586.80,357.64 L587.05,359.39 L587.30,360.00 L587.55,359.37 L587.80,357.60 L588.05,355.01 L588.30,352.05 L588.55,349.24 L588.80,347.07 L589.05,345.92 L589.30,346.00 L589.55,347.28 L589.80,349.55 L590.05,352.40 L590.30,355.34 L590.55,357.86 L590.80,359.50 L591.05,359.99 L591.30,359.24 L591.55,357.37 L591.80,354.73 L592.05,351.76 L592.30,348.99 L592.55,346.91 L592.80,345.87 L593.05,346.07 L593.30,347.46 L593.55,349.81 L593.80,352.70 L594.05,355.62 L594.30,358.07 L594.55,359.61 L594.80,359.97 L595.05,359.10 L595.30,357.14 L595.55,354.44 L595.80,351.47 L596.05,348.75 L596.30,346.75 L596.55,345.84 L596.80,346.16 L597.05,347.66 L597.30,350.08 L597.55,352.99 L597.80,355.89 L598.05,358.26 L598.30,359.70 L598.55,359.94 L598.80,358.95 L599.05,356.90" fill="none" stroke="#52660f" stroke-width="1.2" stroke-linejoin="round"/>
<g fill="#fff" stroke="#000" stroke-width="0.9"><rect x="60.55" y="390.05" width="6.1" height="5.9"/><rect x="79.02" y="390.05" width="6.1" height="5.9"/><rect x="97.49" y="390.05" width="6.1" height="5.9"/><rect x="115.96" y="390.05" width="6.1" height="5.9"/><rect x="134.43" y="390.05" width="6.1" height="5.9"/><rect x="152.90" y="390.05" width="6.1" height="5.9"/><rect x="171.37" y="133.25" width="6.1" height="5.9"/><rect x="189.84" y="137.65" width="6.1" height="5.9"/><rect x="208.31" y="137.65" width="6.1" height="5.9"/><rect x="226.78" y="137.65" width="6.1" height="5.9"/><rect x="245.25" y="137.65" width="6.1" height="5.9"/><rect x="263.72" y="137.65" width="6.1" height="5.9"/><rect x="282.19" y="137.65" width="6.1" height="5.9"/><rect x="300.66" y="137.65" width="6.1" height="5.9"/><rect x="319.13" y="137.65" width="6.1" height="5.9"/><rect x="337.60" y="137.65" width="6.1" height="5.9"/><rect x="356.07" y="137.65" width="6.1" height="5.9"/><rect x="374.54" y="137.65" width="6.1" height="5.9"/><rect x="393.01" y="137.65" width="6.1" height="5.9"/><rect x="411.48" y="137.65" width="6.1" height="5.9"/><rect x="429.95" y="137.65" width="6.1" height="5.9"/><rect x="448.42" y="137.65" width="6.1" height="5.9"/><rect x="466.89" y="137.65" width="6.1" height="5.9"/><rect x="485.36" y="137.65" width="6.1" height="5.9"/><rect x="503.83" y="137.65" width="6.1" height="5.9"/><rect x="522.30" y="137.65" width="6.1" height="5.9"/><rect x="540.77" y="137.65" width="6.1" height="5.9"/><rect x="559.24" y="137.65" width="6.1" height="5.9"/><rect x="577.71" y="137.65" width="6.1" height="5.9"/><rect x="596.18" y="137.65" width="6.1" height="5.9"/></g>
<g fill="#fff" stroke="#924526" stroke-width="0.9"><path d="M63.40,388.40 L67.80,396.20 H59.00 Z"/><path d="M74.30,388.40 L78.70,396.20 H69.90 Z"/><path d="M85.20,388.40 L89.60,396.20 H80.80 Z"/><path d="M96.10,388.40 L100.50,396.20 H91.70 Z"/><path d="M107.00,388.40 L111.40,396.20 H102.60 Z"/><path d="M117.90,388.40 L122.30,396.20 H113.50 Z"/><path d="M128.80,388.40 L133.20,396.20 H124.40 Z"/><path d="M139.70,388.40 L144.10,396.20 H135.30 Z"/><path d="M150.60,388.40 L155.00,396.20 H146.20 Z"/><path d="M161.50,348.40 L165.90,356.20 H157.10 Z"/><path d="M172.40,236.70 L176.80,244.50 H168.00 Z"/><path d="M183.30,214.00 L187.70,221.80 H178.90 Z"/><path d="M194.20,216.50 L198.60,224.30 H189.80 Z"/><path d="M205.10,218.47 L209.50,226.27 H200.70 Z"/><path d="M216.00,219.94 L220.40,227.74 H211.60 Z"/><path d="M226.90,220.58 L231.30,228.38 H222.50 Z"/><path d="M237.80,220.28 L242.20,228.08 H233.40 Z"/><path d="M248.70,219.08 L253.10,226.88 H244.30 Z"/><path d="M259.60,217.25 L264.00,225.05 H255.20 Z"/><path d="M270.50,215.18 L274.90,222.98 H266.10 Z"/><path d="M281.40,213.30 L285.80,221.10 H277.00 Z"/><path d="M292.30,212.02 L296.70,219.82 H287.90 Z"/><path d="M303.20,211.60 L307.60,219.40 H298.80 Z"/><path d="M314.10,212.15 L318.50,219.95 H309.70 Z"/><path d="M325.00,213.53 L329.40,221.33 H320.60 Z"/><path d="M335.90,215.47 L340.30,223.27 H331.50 Z"/><path d="M346.80,217.53 L351.20,225.33 H342.40 Z"/><path d="M357.70,219.30 L362.10,227.10 H353.30 Z"/><path d="M368.60,220.38 L373.00,228.18 H364.20 Z"/><path d="M379.50,220.55 L383.90,228.35 H375.10 Z"/><path d="M390.40,219.77 L394.80,227.57 H386.00 Z"/><path d="M401.30,218.22 L405.70,226.02 H396.90 Z"/><path d="M412.20,216.21 L416.60,224.01 H407.80 Z"/><path d="M423.10,214.18 L427.50,221.98 H418.70 Z"/><path d="M434.00,212.55 L438.40,220.35 H429.60 Z"/><path d="M444.90,211.69 L449.30,219.49 H440.50 Z"/><path d="M455.80,211.76 L460.20,219.56 H451.40 Z"/><path d="M466.70,212.76 L471.10,220.56 H462.30 Z"/><path d="M477.60,214.46 L482.00,222.26 H473.20 Z"/><path d="M488.50,216.52 L492.90,224.32 H484.10 Z"/><path d="M499.40,218.49 L503.80,226.29 H495.00 Z"/><path d="M510.30,219.95 L514.70,227.75 H505.90 Z"/><path d="M521.20,220.59 L525.60,228.39 H516.80 Z"/><path d="M532.10,220.27 L536.50,228.07 H527.70 Z"/><path d="M543.00,219.07 L547.40,226.87 H538.60 Z"/><path d="M553.90,217.23 L558.30,225.03 H549.50 Z"/><path d="M564.80,215.16 L569.20,222.96 H560.40 Z"/><path d="M575.70,213.28 L580.10,221.08 H571.30 Z"/><path d="M586.60,212.01 L591.00,219.81 H582.20 Z"/><path d="M597.50,211.60 L601.90,219.40 H593.10 Z"/></g>
<g fill="#fff" stroke="#52660f" stroke-width="0.9"><circle cx="63.40" cy="393.00" r="3.85"/><circle cx="74.30" cy="393.00" r="3.85"/><circle cx="85.20" cy="393.00" r="3.85"/><circle cx="96.10" cy="393.00" r="3.85"/><circle cx="107.00" cy="393.00" r="3.85"/><circle cx="117.90" cy="393.00" r="3.85"/><circle cx="128.80" cy="393.00" r="3.85"/><circle cx="139.70" cy="393.00" r="3.85"/><circle cx="150.60" cy="393.00" r="3.85"/><circle cx="161.50" cy="287.70" r="3.85"/><circle cx="172.40" cy="335.30" r="3.85"/><circle cx="183.30" cy="342.90" r="3.85"/><circle cx="194.20" cy="345.85" r="3.85"/><circle cx="205.10" cy="347.00" r="3.85"/><circle cx="216.00" cy="349.40" r="3.85"/><circle cx="226.90" cy="352.54" r="3.85"/><circle cx="237.80" cy="355.76" r="3.85"/><circle cx="248.70" cy="358.37" r="3.85"/><circle cx="259.60" cy="359.82" r="3.85"/><circle cx="270.50" cy="359.79" r="3.85"/><circle cx="281.40" cy="358.30" r="3.85"/><circle cx="292.30" cy="355.66" r="3.85"/><circle cx="303.20" cy="352.43" r="3.85"/><circle cx="314.10" cy="349.30" r="3.85"/><circle cx="325.00" cy="346.93" r="3.85"/><circle cx="335.90" cy="345.84" r="3.85"/><circle cx="346.80" cy="346.25" r="3.85"/><circle cx="357.70" cy="348.08" r="3.85"/><circle cx="368.60" cy="350.93" r="3.85"/><circle cx="379.50" cy="354.20" r="3.85"/><circle cx="390.40" cy="357.20" r="3.85"/><circle cx="401.30" cy="359.28" r="3.85"/><circle cx="412.20" cy="360.00" r="3.85"/><circle cx="423.10" cy="359.21" r="3.85"/><circle cx="434.00" cy="357.08" r="3.85"/><circle cx="444.90" cy="354.06" r="3.85"/><circle cx="455.80" cy="350.79" r="3.85"/><circle cx="466.70" cy="347.97" r="3.85"/><circle cx="477.60" cy="346.20" r="3.85"/><circle cx="488.50" cy="345.86" r="3.85"/><circle cx="499.40" cy="347.01" r="3.85"/><circle cx="510.30" cy="349.42" r="3.85"/><circle cx="521.20" cy="352.57" r="3.85"/><circle cx="532.10" cy="355.79" r="3.85"/><circle cx="543.00" cy="358.39" r="3.85"/><circle cx="553.90" cy="359.83" r="3.85"/><circle cx="564.80" cy="359.79" r="3.85"/><circle cx="575.70" cy="358.28" r="3.85"/><circle cx="586.60" cy="355.63" r="3.85"/><circle cx="597.50" cy="352.39" r="3.85"/></g>
</g>
<path d="M63.6,9.4 V431.4 H617.7 V9.4" fill="none" stroke="#000" stroke-width="1.5"/>
<path d="M63.6,420.40h4.3 M63.6,393.00h7.9 M63.6,365.60h4.3 M63.6,338.20h7.9 M63.6,310.80h4.3 M63.6,283.40h7.9 M63.6,256.00h4.3 M63.6,228.60h7.9 M63.6,201.20h4.3 M63.6,173.80h7.9 M63.6,146.40h4.3 M63.6,119.00h7.9 M63.6,91.60h4.3 M63.6,64.20h7.9 M63.6,36.80h4.3 M63.6,9.40h7.9 M617.7,412.18h-4.6 M617.7,393.00h-8.6 M617.7,373.82h-4.6 M617.7,354.64h-8.6 M617.7,335.46h-4.6 M617.7,316.28h-8.6 M617.7,297.10h-4.6 M617.7,277.92h-8.6 M617.7,258.74h-4.6 M617.7,239.56h-8.6 M617.7,220.38h-4.6 M617.7,201.20h-8.6 M617.7,182.02h-4.6 M617.7,162.84h-8.6 M617.7,143.66h-4.6 M617.7,124.48h-8.6 M617.7,105.30h-4.6 M617.7,86.12h-8.6 M617.7,66.94h-4.6 M617.7,47.76h-8.6 M617.7,28.58h-4.6 M617.7,9.40h-8.6 M63.60,431.4v-8.1 M109.78,431.4v-4.5 M155.95,431.4v-8.1 M202.12,431.4v-4.5 M248.30,431.4v-8.1 M294.48,431.4v-4.5 M340.65,431.4v-8.1 M386.83,431.4v-4.5 M433.00,431.4v-8.1 M479.18,431.4v-4.5 M525.35,431.4v-8.1 M571.52,431.4v-4.5 M617.70,431.4v-8.1" fill="none" stroke="#000" stroke-width="1.5"/>
<g font-size="20"><text x="55.5" y="399.10" text-anchor="end">0</text><text x="55.5" y="344.30" text-anchor="end">5</text><text x="55.5" y="289.50" text-anchor="end">10</text><text x="55.5" y="234.70" text-anchor="end">15</text><text x="55.5" y="179.90" text-anchor="end">20</text><text x="55.5" y="125.10" text-anchor="end">25</text><text x="55.5" y="70.30" text-anchor="end">30</text><text x="55.5" y="15.50" text-anchor="end">35</text><text x="625.5" y="437.46" textLength="29.9" lengthAdjust="spacingAndGlyphs">-0.1</text><text x="625.5" y="399.10">0.0</text><text x="625.5" y="360.74">0.1</text><text x="625.5" y="322.38">0.2</text><text x="625.5" y="284.02">0.3</text><text x="625.5" y="245.66">0.4</text><text x="625.5" y="207.30">0.5</text><text x="625.5" y="168.94">0.6</text><text x="625.5" y="130.58">0.7</text><text x="625.5" y="92.22">0.8</text><text x="625.5" y="53.86">0.9</text><text x="625.5" y="15.50">1.0</text><text x="63.60" y="455.3" text-anchor="middle">0</text><text x="155.95" y="455.3" text-anchor="middle">50</text><text x="248.30" y="455.3" text-anchor="middle">100</text><text x="340.65" y="455.3" text-anchor="middle">150</text><text x="433.00" y="455.3" text-anchor="middle">200</text><text x="525.35" y="455.3" text-anchor="middle">250</text><text x="617.70" y="455.3" text-anchor="middle">300</text></g>
<text x="137.2" y="20.1" font-size="19.6">Original model (<tspan font-style="italic">l</tspan><tspan font-size="12" dy="6.6">r2</tspan><tspan dy="-6.6">=10 mm, </tspan><tspan font-style="italic">d</tspan><tspan font-size="12" dy="6.6">r2</tspan><tspan dy="-6.6">=1.2 mm)</tspan></text>
<text x="346" y="483.6" font-size="20" text-anchor="middle"><tspan font-style="italic">t</tspan> (ms)</text>
<text transform="translate(16.5,226.4) rotate(-90)" font-size="20" text-anchor="middle"><tspan font-style="italic">Pressure</tspan> (MPa)</text>
<text transform="translate(678.6,222.1) rotate(-90)" font-size="19.6" text-anchor="middle"><tspan font-style="italic">displacement</tspan> (mm)</text>
<text x="212" y="97.8" font-size="19.7"><tspan font-style="italic">Response time</tspan> = 15.1 ms</text>
<path d="M516,9.7 H545" stroke="#000" stroke-width="1.2"/><rect x="526.7" y="6.5" width="6.8" height="6.6" fill="#fff" stroke="#000" stroke-width="0.9"/>
<path d="M516,40.0 H545" stroke="#924526" stroke-width="1.1"/><path d="M530.4,35.0 L534.8,42.4 H526.0 Z" fill="#fff" stroke="#924526" stroke-width="0.9"/>
<path d="M516,64.4 H545" stroke="#52660f" stroke-width="1.1"/><circle cx="530.3" cy="64.2" r="3.85" fill="#fff" stroke="#52660f" stroke-width="0.9"/>
<text x="548.6" y="13.6" font-size="18" font-style="italic">p</text><text x="558.9" y="20.6" font-size="11.5">s</text>
<text x="549.3" y="43.7" font-size="18" font-style="italic">y</text>
<text x="549.3" y="68.5" font-size="18" font-style="italic">x</text>
</svg>
</body></html>
